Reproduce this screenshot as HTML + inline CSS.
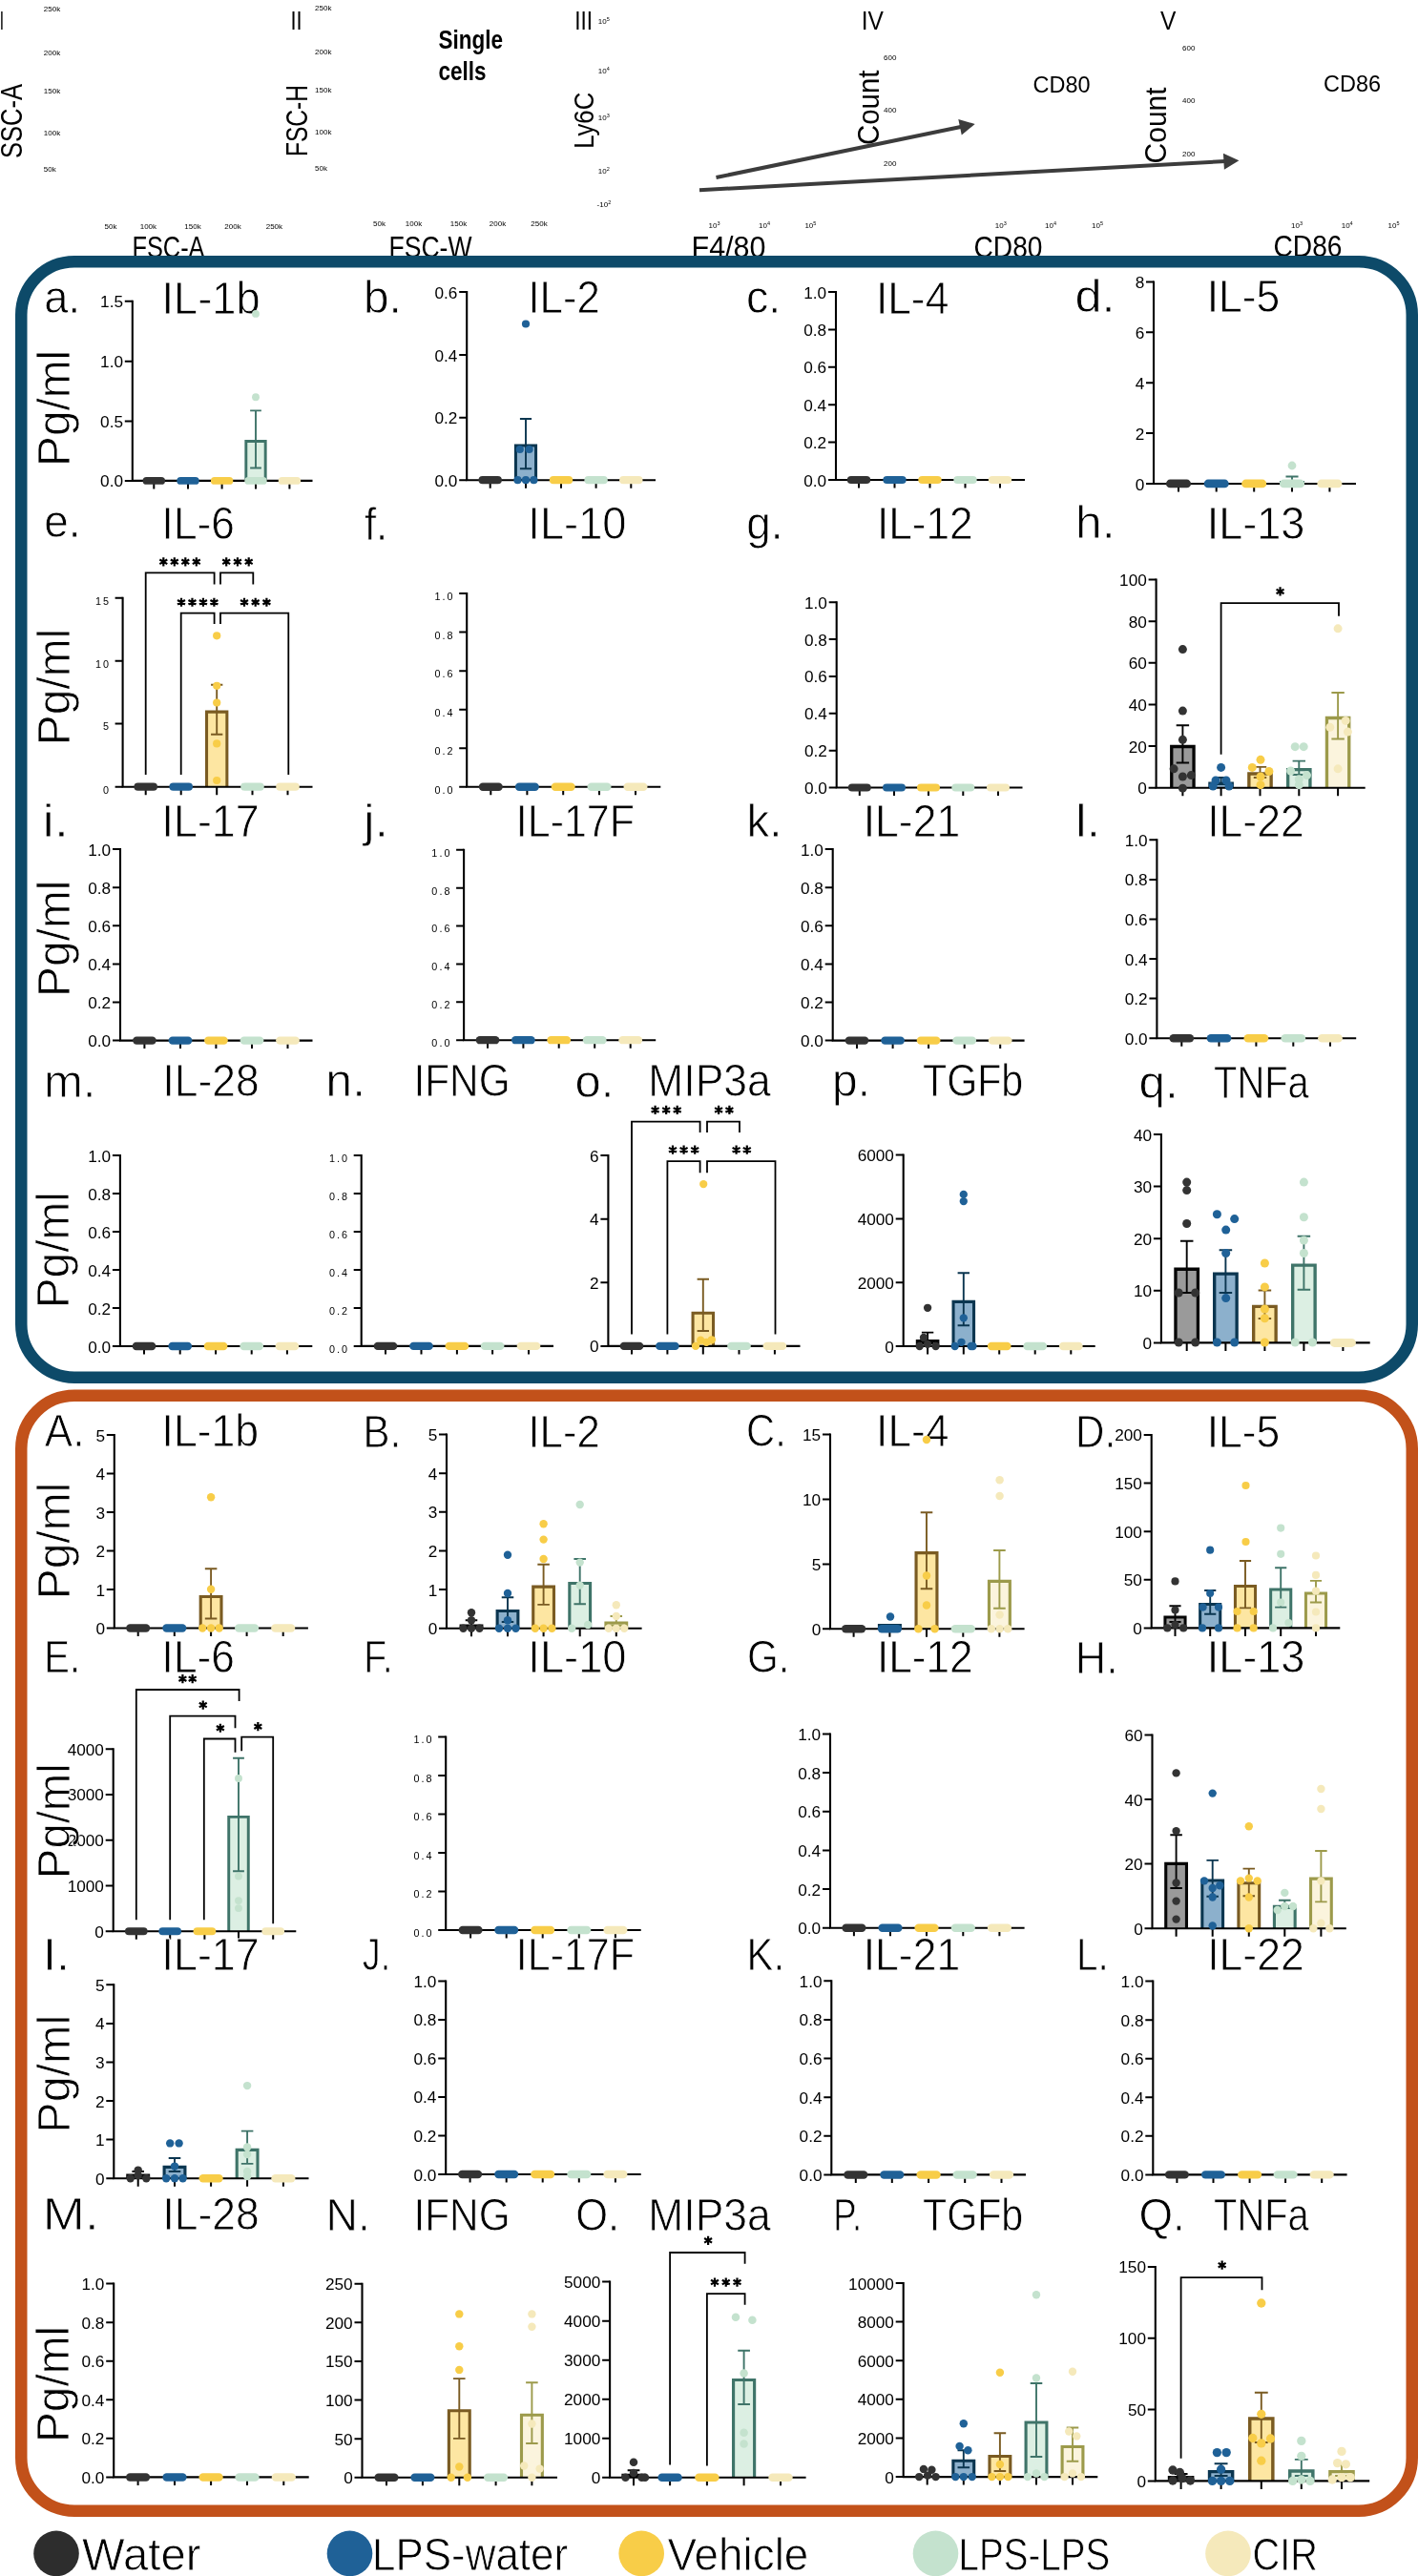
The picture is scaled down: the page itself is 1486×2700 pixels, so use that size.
<!DOCTYPE html><html><head><meta charset="utf-8"><style>html,body{margin:0;padding:0;background:#fff;}svg{display:block;font-family:"Liberation Sans", sans-serif;will-change:transform;}</style></head><body>
<svg width="1486" height="2700" viewBox="0 0 1486 2700">
<rect width="1486" height="2700" fill="#fff"/>
<g fill="#000">
<text x="-0.3" y="30.6" font-size="28.5" textLength="4.3" lengthAdjust="spacingAndGlyphs">I</text>
<text x="304.4" y="30.6" font-size="28.5" textLength="12.1" lengthAdjust="spacingAndGlyphs">II</text>
<text x="602.2" y="30.6" font-size="28.5" textLength="18.8" lengthAdjust="spacingAndGlyphs">III</text>
<text x="902.7" y="30.6" font-size="28.5" textLength="23.2" lengthAdjust="spacingAndGlyphs">IV</text>
<text x="1216.1" y="30.6" font-size="28.5" textLength="16.4" lengthAdjust="spacingAndGlyphs">V</text>
<text transform="translate(22.6,166) rotate(-90)" font-size="31.5" textLength="78" lengthAdjust="spacingAndGlyphs">SSC-A</text>
<text transform="translate(322.3,164) rotate(-90)" font-size="31.5" textLength="75" lengthAdjust="spacingAndGlyphs">FSC-H</text>
<text transform="translate(621.8,155.8) rotate(-90)" font-size="30.3" textLength="59" lengthAdjust="spacingAndGlyphs">Ly6C</text>
<text transform="translate(920.5,152) rotate(-90)" font-size="31" textLength="78.4" lengthAdjust="spacingAndGlyphs">Count</text>
<text transform="translate(1221.8,171.4) rotate(-90)" font-size="31" textLength="80" lengthAdjust="spacingAndGlyphs">Count</text>
<text x="459.5" y="50.8" font-size="27" textLength="67.5" lengthAdjust="spacingAndGlyphs" font-weight="bold">Single</text>
<text x="459.5" y="84" font-size="27" textLength="50" lengthAdjust="spacingAndGlyphs" font-weight="bold">cells</text>
<text x="1082.5" y="96.5" font-size="24.5" textLength="60" lengthAdjust="spacingAndGlyphs">CD80</text>
<text x="1387" y="96.4" font-size="24.5" textLength="60" lengthAdjust="spacingAndGlyphs">CD86</text>
<text x="138.5" y="270" font-size="31" textLength="76" lengthAdjust="spacingAndGlyphs">FSC-A</text>
<text x="407.5" y="270" font-size="31" textLength="87" lengthAdjust="spacingAndGlyphs">FSC-W</text>
<text x="724.5" y="269.5" font-size="31" textLength="78" lengthAdjust="spacingAndGlyphs">F4/80</text>
<text x="1020.5" y="269.5" font-size="31" textLength="72" lengthAdjust="spacingAndGlyphs">CD80</text>
<text x="1334.5" y="269" font-size="31" textLength="72" lengthAdjust="spacingAndGlyphs">CD86</text>
<g>
<text x="45.8" y="12.4" font-size="8">250k</text>
<text x="45.8" y="58.2" font-size="8">200k</text>
<text x="45.8" y="97.7" font-size="8">150k</text>
<text x="45.8" y="142.2" font-size="8">100k</text>
<text x="45.8" y="179.9" font-size="8">50k</text>
<text x="330.1" y="11.4" font-size="8">250k</text>
<text x="330.1" y="57.1" font-size="8">200k</text>
<text x="330.1" y="97.2" font-size="8">150k</text>
<text x="330.1" y="141.4" font-size="8">100k</text>
<text x="330.1" y="179" font-size="8">50k</text>
<text x="116" y="239.7" font-size="8" text-anchor="middle">50k</text>
<text x="155.4" y="239.7" font-size="8" text-anchor="middle">100k</text>
<text x="202" y="239.7" font-size="8" text-anchor="middle">150k</text>
<text x="244" y="239.7" font-size="8" text-anchor="middle">200k</text>
<text x="287.4" y="239.7" font-size="8" text-anchor="middle">250k</text>
<text x="397.5" y="237" font-size="8" text-anchor="middle">50k</text>
<text x="433.5" y="237" font-size="8" text-anchor="middle">100k</text>
<text x="480.5" y="237" font-size="8" text-anchor="middle">150k</text>
<text x="521.5" y="237" font-size="8" text-anchor="middle">200k</text>
<text x="565" y="237" font-size="8" text-anchor="middle">250k</text>
</g>
<text x="626.8" y="25.4" font-size="8">10<tspan font-size="5.5" dy="-3.2">5</tspan></text>
<text x="626.8" y="76.8" font-size="8">10<tspan font-size="5.5" dy="-3.2">4</tspan></text>
<text x="626.8" y="126.3" font-size="8">10<tspan font-size="5.5" dy="-3.2">3</tspan></text>
<text x="626.8" y="181.7" font-size="8">10<tspan font-size="5.5" dy="-3.2">2</tspan></text>
<text x="625.6" y="217.4" font-size="8">-10<tspan font-size="5.5" dy="-3.2">2</tspan></text>
<text x="742.6" y="239" font-size="8">10<tspan font-size="5.5" dy="-3.2">3</tspan></text>
<text x="795" y="239" font-size="8">10<tspan font-size="5.5" dy="-3.2">4</tspan></text>
<text x="843.4" y="239" font-size="8">10<tspan font-size="5.5" dy="-3.2">5</tspan></text>
<text x="1042.8" y="239" font-size="8">10<tspan font-size="5.5" dy="-3.2">3</tspan></text>
<text x="1095" y="239" font-size="8">10<tspan font-size="5.5" dy="-3.2">4</tspan></text>
<text x="1144" y="239" font-size="8">10<tspan font-size="5.5" dy="-3.2">5</tspan></text>
<text x="1353" y="239" font-size="8">10<tspan font-size="5.5" dy="-3.2">3</tspan></text>
<text x="1405.7" y="239" font-size="8">10<tspan font-size="5.5" dy="-3.2">4</tspan></text>
<text x="1454.5" y="239" font-size="8">10<tspan font-size="5.5" dy="-3.2">5</tspan></text>
<text x="926" y="62.5" font-size="8">600</text>
<text x="926" y="117.5" font-size="8">400</text>
<text x="926" y="173.5" font-size="8">200</text>
<text x="1239" y="52.5" font-size="8">600</text>
<text x="1239" y="107.5" font-size="8">400</text>
<text x="1239" y="163.5" font-size="8">200</text>
</g>
<line x1="750.5" y1="186" x2="1007.99" y2="132.83" stroke="#3c3c3c" stroke-width="4"/>
<polygon points="1021.7,130 1007.75,141.56 1004.31,124.91" fill="#3c3c3c"/>
<line x1="733" y1="199.3" x2="1284.42" y2="169.07" stroke="#3c3c3c" stroke-width="4"/>
<polygon points="1298.4,168.3 1282.89,177.66 1281.96,160.69" fill="#3c3c3c"/>
<rect x="16" y="268" width="1470" height="1182" rx="60" fill="#fff"/>
<rect x="22.25" y="274.25" width="1457.5" height="1169.5" rx="55.75" ry="55.75" fill="none" stroke="#0d4a69" stroke-width="12.5"/>
<rect x="22.25" y="1462.75" width="1457.5" height="1169" rx="55.75" ry="55.75" fill="none" stroke="#c2511a" stroke-width="12.5"/>
<text x="46.28" y="327.7" font-size="47.5" textLength="37.76" lengthAdjust="spacingAndGlyphs" stroke="#fff" stroke-width="0.8">a.</text>
<text x="169.53" y="328.8" font-size="48" textLength="103.07" lengthAdjust="spacingAndGlyphs" stroke="#fff" stroke-width="0.8">IL-1b</text>
<path d="M257.82 503.9V462.46H278.18V503.9Z" fill="#dcefe3"/>
<path d="M257.82 503.9V462.46H278.18V503.9" fill="none" stroke="#3f7469" stroke-width="2.91"/>
<path d="M268 430.4V490.5M262.14 430.4h11.72M262.14 490.5h11.72" stroke="#3f7469" stroke-width="1.9" fill="none"/>
<path d="M138.8 314.7V503.9H327.5" stroke="#000" stroke-width="2.1" fill="none"/>
<path d="M130.8 315.7H138.8M130.8 378.7H138.8M130.8 441.4H138.8M130.8 503.9H138.8M161.3 503.9V512.4M197 503.9V512.4M232.6 503.9V512.4M268 503.9V512.4M303.4 503.9V512.4" stroke="#000" stroke-width="2" fill="none"/>
<rect x="149.58" y="499.96" width="23.45" height="7.87" rx="3.94" fill="#333333"/>
<rect x="185.28" y="499.96" width="23.45" height="7.87" rx="3.94" fill="#1f6197"/>
<rect x="220.88" y="499.96" width="23.45" height="7.87" rx="3.94" fill="#f8cd48"/>
<rect x="256.28" y="499.96" width="23.45" height="7.87" rx="3.94" fill="#c4e2ce"/>
<rect x="291.68" y="499.96" width="23.45" height="7.87" rx="3.94" fill="#f5e9bb"/>
<circle cx="268" cy="328.9" r="3.94" fill="#c4e2ce"/>
<circle cx="268" cy="416.2" r="3.94" fill="#c4e2ce"/>
<text x="129" y="322.2" font-size="17.2" text-anchor="end">1.5</text>
<text x="129" y="385.2" font-size="17.2" text-anchor="end">1.0</text>
<text x="129" y="447.9" font-size="17.2" text-anchor="end">0.5</text>
<text x="129" y="510.4" font-size="17.2" text-anchor="end">0.0</text>
<text x="380.92" y="328.2" font-size="47.5" textLength="39.84" lengthAdjust="spacingAndGlyphs" stroke="#fff" stroke-width="0.8">b.</text>
<text x="553.47" y="328.2" font-size="48" textLength="75.33" lengthAdjust="spacingAndGlyphs" stroke="#fff" stroke-width="0.8">IL-2</text>
<path d="M540.43 503.2V466.91H561.57V503.2Z" fill="#8cb0cc"/>
<path d="M540.43 503.2V466.91H561.57V503.2" fill="none" stroke="#0b3650" stroke-width="3.03"/>
<path d="M551 439V491.3M544.91 439h12.18M544.91 491.3h12.18" stroke="#0b3650" stroke-width="1.9" fill="none"/>
<path d="M489.2 305V503.2H687" stroke="#000" stroke-width="2.1" fill="none"/>
<path d="M481.2 306H489.2M481.2 372H489.2M481.2 437.7H489.2M481.2 503.2H489.2M513.7 503.2V511.7M551 503.2V511.7M588 503.2V511.7M624.6 503.2V511.7M661.3 503.2V511.7" stroke="#000" stroke-width="2" fill="none"/>
<rect x="501.52" y="499.11" width="24.35" height="8.17" rx="4.09" fill="#333333"/>
<rect x="575.82" y="499.11" width="24.35" height="8.17" rx="4.09" fill="#f8cd48"/>
<rect x="612.42" y="499.11" width="24.35" height="8.17" rx="4.09" fill="#c4e2ce"/>
<rect x="649.12" y="499.11" width="24.35" height="8.17" rx="4.09" fill="#f5e9bb"/>
<circle cx="551" cy="339.5" r="4.09" fill="#1f6197"/>
<circle cx="544.8" cy="471" r="4.09" fill="#1f6197"/>
<circle cx="554.6" cy="471" r="4.09" fill="#1f6197"/>
<circle cx="542.5" cy="503.2" r="4.09" fill="#1f6197"/>
<circle cx="551" cy="503.2" r="4.09" fill="#1f6197"/>
<circle cx="559.4" cy="503.2" r="4.09" fill="#1f6197"/>
<text x="479.4" y="312.5" font-size="17.2" text-anchor="end">0.6</text>
<text x="479.4" y="378.5" font-size="17.2" text-anchor="end">0.4</text>
<text x="479.4" y="444.2" font-size="17.2" text-anchor="end">0.2</text>
<text x="479.4" y="509.7" font-size="17.2" text-anchor="end">0.0</text>
<text x="782.02" y="327.5" font-size="47.5" textLength="36.23" lengthAdjust="spacingAndGlyphs" stroke="#fff" stroke-width="0.8">c.</text>
<text x="917.91" y="328.5" font-size="48" textLength="76.39" lengthAdjust="spacingAndGlyphs" stroke="#fff" stroke-width="0.8">IL-4</text>
<path d="M876 305V503H1074" stroke="#000" stroke-width="2.1" fill="none"/>
<path d="M868 306H876M868 345.4H876M868 384.8H876M868 424.2H876M868 463.6H876M868 503H876M900 503V511.5M937.5 503V511.5M974.5 503V511.5M1011.5 503V511.5M1048 503V511.5" stroke="#000" stroke-width="2" fill="none"/>
<rect x="887.79" y="498.9" width="24.42" height="8.19" rx="4.1" fill="#333333"/>
<rect x="925.29" y="498.9" width="24.42" height="8.19" rx="4.1" fill="#1f6197"/>
<rect x="962.29" y="498.9" width="24.42" height="8.19" rx="4.1" fill="#f8cd48"/>
<rect x="999.29" y="498.9" width="24.42" height="8.19" rx="4.1" fill="#c4e2ce"/>
<rect x="1035.79" y="498.9" width="24.42" height="8.19" rx="4.1" fill="#f5e9bb"/>
<text x="866.2" y="312.5" font-size="17.2" text-anchor="end">1.0</text>
<text x="866.2" y="351.9" font-size="17.2" text-anchor="end">0.8</text>
<text x="866.2" y="391.3" font-size="17.2" text-anchor="end">0.6</text>
<text x="866.2" y="430.7" font-size="17.2" text-anchor="end">0.4</text>
<text x="866.2" y="470.1" font-size="17.2" text-anchor="end">0.2</text>
<text x="866.2" y="509.5" font-size="17.2" text-anchor="end">0.0</text>
<text x="1126.48" y="327.2" font-size="47.5" textLength="42.13" lengthAdjust="spacingAndGlyphs" stroke="#fff" stroke-width="0.8">d.</text>
<text x="1264.69" y="327.2" font-size="48" textLength="76.67" lengthAdjust="spacingAndGlyphs" stroke="#fff" stroke-width="0.8">IL-5</text>
<path d="M1342.65 507V505.62H1365.35V507Z" fill="#dcefe3"/>
<path d="M1342.65 507V505.62H1365.35V507" fill="none" stroke="#3f7469" stroke-width="3.25"/>
<path d="M1354 499.5V504M1347.47 499.5h13.07M1347.47 504h13.07" stroke="#3f7469" stroke-width="1.9" fill="none"/>
<path d="M1209 294.4V507H1421" stroke="#000" stroke-width="2.1" fill="none"/>
<path d="M1201 295.4H1209M1201 348.3H1209M1201 401.2H1209M1201 454.1H1209M1201 507H1209M1235 507V515.5M1274.7 507V515.5M1314.2 507V515.5M1354 507V515.5M1393.4 507V515.5" stroke="#000" stroke-width="2" fill="none"/>
<rect x="1221.93" y="502.62" width="26.14" height="8.75" rx="4.38" fill="#333333"/>
<rect x="1261.63" y="502.62" width="26.14" height="8.75" rx="4.38" fill="#1f6197"/>
<rect x="1301.13" y="502.62" width="26.14" height="8.75" rx="4.38" fill="#f8cd48"/>
<rect x="1340.93" y="502.62" width="26.14" height="8.75" rx="4.38" fill="#c4e2ce"/>
<rect x="1380.33" y="502.62" width="26.14" height="8.75" rx="4.38" fill="#f5e9bb"/>
<circle cx="1354" cy="488" r="4.38" fill="#c4e2ce"/>
<text x="1199.2" y="301.9" font-size="17.2" text-anchor="end">8</text>
<text x="1199.2" y="354.8" font-size="17.2" text-anchor="end">6</text>
<text x="1199.2" y="407.7" font-size="17.2" text-anchor="end">4</text>
<text x="1199.2" y="460.6" font-size="17.2" text-anchor="end">2</text>
<text x="1199.2" y="513.5" font-size="17.2" text-anchor="end">0</text>
<text x="46.25" y="563.4" font-size="47.5" textLength="38.35" lengthAdjust="spacingAndGlyphs" stroke="#fff" stroke-width="0.8">e.</text>
<text x="169.62" y="564.7" font-size="48" textLength="76.23" lengthAdjust="spacingAndGlyphs" stroke="#fff" stroke-width="0.8">IL-6</text>
<path d="M216.54 824.7V746.13H237.86V824.7Z" fill="#fde6a2"/>
<path d="M216.54 824.7V746.13H237.86V824.7" fill="none" stroke="#7a5b22" stroke-width="3.05"/>
<path d="M227.2 717.8V769.8M221.06 717.8h12.28M221.06 769.8h12.28" stroke="#7a5b22" stroke-width="1.9" fill="none"/>
<path d="M128.6 625.7V824.7H327.5" stroke="#000" stroke-width="2.1" fill="none"/>
<path d="M120.6 626.7H128.6M120.6 692.8H128.6M120.6 758.5H128.6M120.6 824.7H128.6M152.7 824.7V833.2M189.7 824.7V833.2M227.2 824.7V833.2M264.5 824.7V833.2M301.5 824.7V833.2" stroke="#000" stroke-width="2" fill="none"/>
<rect x="140.42" y="820.58" width="24.55" height="8.24" rx="4.12" fill="#333333"/>
<rect x="177.42" y="820.58" width="24.55" height="8.24" rx="4.12" fill="#1f6197"/>
<rect x="252.22" y="820.58" width="24.55" height="8.24" rx="4.12" fill="#c4e2ce"/>
<rect x="289.22" y="820.58" width="24.55" height="8.24" rx="4.12" fill="#f5e9bb"/>
<circle cx="227.2" cy="666.3" r="4.12" fill="#f8cd48"/>
<circle cx="227.2" cy="718.8" r="4.12" fill="#f8cd48"/>
<circle cx="227.2" cy="736.5" r="4.12" fill="#f8cd48"/>
<circle cx="227.2" cy="779.4" r="4.12" fill="#f8cd48"/>
<circle cx="227.2" cy="818" r="4.12" fill="#f8cd48"/>
<text x="116.1" y="633.6" font-size="10.8" text-anchor="end" letter-spacing="2.1">15</text>
<text x="116.1" y="699.7" font-size="10.8" text-anchor="end" letter-spacing="2.1">10</text>
<text x="116.1" y="765.4" font-size="10.8" text-anchor="end" letter-spacing="2.1">5</text>
<text x="116.1" y="831.6" font-size="10.8" text-anchor="end" letter-spacing="2.1">0</text>
<path d="M152.7 812L152.7 600.4L224.6 600.4L224.6 612.5" stroke="#000" stroke-width="1.8" fill="none"/>
<path d="M231 612.5L231 600.4L265.3 600.4L265.3 612.5" stroke="#000" stroke-width="1.8" fill="none"/>
<path d="M189.7 812L189.7 642.7L224.6 642.7L224.6 654" stroke="#000" stroke-width="1.8" fill="none"/>
<path d="M231 654L231 642.7L302.3 642.7L302.3 812" stroke="#000" stroke-width="1.8" fill="none"/>
<path d="M171.3 584.25L171.3 593.45M167.32 586.55L175.28 591.15M167.32 591.15L175.28 586.55M182.8 584.25L182.8 593.45M178.82 586.55L186.78 591.15M178.82 591.15L186.78 586.55M194.3 584.25L194.3 593.45M190.32 586.55L198.28 591.15M190.32 591.15L198.28 586.55M205.8 584.25L205.8 593.45M201.82 586.55L209.78 591.15M201.82 591.15L209.78 586.55" stroke="#000" stroke-width="2.2" fill="none"/>
<path d="M237.2 584.25L237.2 593.45M233.22 586.55L241.18 591.15M233.22 591.15L241.18 586.55M248.95 584.25L248.95 593.45M244.97 586.55L252.93 591.15M244.97 591.15L252.93 586.55M260.7 584.25L260.7 593.45M256.72 586.55L264.68 591.15M256.72 591.15L264.68 586.55" stroke="#000" stroke-width="2.2" fill="none"/>
<path d="M190 626.65L190 635.85M186.02 628.95L193.98 633.55M186.02 633.55L193.98 628.95M201.47 626.65L201.47 635.85M197.48 628.95L205.45 633.55M197.48 633.55L205.45 628.95M212.93 626.65L212.93 635.85M208.95 628.95L216.92 633.55M208.95 633.55L216.92 628.95M224.4 626.65L224.4 635.85M220.42 628.95L228.38 633.55M220.42 633.55L228.38 628.95" stroke="#000" stroke-width="2.2" fill="none"/>
<path d="M256 626.65L256 635.85M252.02 628.95L259.98 633.55M252.02 633.55L259.98 628.95M267.7 626.65L267.7 635.85M263.72 628.95L271.68 633.55M263.72 633.55L271.68 628.95M279.4 626.65L279.4 635.85M275.42 628.95L283.38 633.55M275.42 633.55L283.38 628.95" stroke="#000" stroke-width="2.2" fill="none"/>
<text x="381.98" y="565.5" font-size="47.5" textLength="24.32" lengthAdjust="spacingAndGlyphs" stroke="#fff" stroke-width="0.8">f.</text>
<text x="553.32" y="565.1" font-size="48" textLength="103.25" lengthAdjust="spacingAndGlyphs" stroke="#fff" stroke-width="0.8">IL-10</text>
<path d="M489.2 621.1V824.7H692.3" stroke="#000" stroke-width="2.1" fill="none"/>
<path d="M481.2 622.1H489.2M481.2 662.62H489.2M481.2 703.14H489.2M481.2 743.66H489.2M481.2 784.18H489.2M481.2 824.7H489.2M514.3 824.7V833.2M552.4 824.7V833.2M590.2 824.7V833.2M628 824.7V833.2M666 824.7V833.2" stroke="#000" stroke-width="2" fill="none"/>
<rect x="501.78" y="820.5" width="25.03" height="8.39" rx="4.2" fill="#333333"/>
<rect x="539.88" y="820.5" width="25.03" height="8.39" rx="4.2" fill="#1f6197"/>
<rect x="577.68" y="820.5" width="25.03" height="8.39" rx="4.2" fill="#f8cd48"/>
<rect x="615.48" y="820.5" width="25.03" height="8.39" rx="4.2" fill="#c4e2ce"/>
<rect x="653.48" y="820.5" width="25.03" height="8.39" rx="4.2" fill="#f5e9bb"/>
<text x="476.7" y="629" font-size="10.8" text-anchor="end" letter-spacing="2.1">1.0</text>
<text x="476.7" y="669.52" font-size="10.8" text-anchor="end" letter-spacing="2.1">0.8</text>
<text x="476.7" y="710.04" font-size="10.8" text-anchor="end" letter-spacing="2.1">0.6</text>
<text x="476.7" y="750.56" font-size="10.8" text-anchor="end" letter-spacing="2.1">0.4</text>
<text x="476.7" y="791.08" font-size="10.8" text-anchor="end" letter-spacing="2.1">0.2</text>
<text x="476.7" y="831.6" font-size="10.8" text-anchor="end" letter-spacing="2.1">0.0</text>
<text x="782.27" y="564.5" font-size="47.5" textLength="38.33" lengthAdjust="spacingAndGlyphs" stroke="#fff" stroke-width="0.8">g.</text>
<text x="918.92" y="564.7" font-size="48" textLength="100.7" lengthAdjust="spacingAndGlyphs" stroke="#fff" stroke-width="0.8">IL-12</text>
<path d="M876.7 630.2V825.5H1071.5" stroke="#000" stroke-width="2.1" fill="none"/>
<path d="M868.7 631.2H876.7M868.7 670.06H876.7M868.7 708.92H876.7M868.7 747.78H876.7M868.7 786.64H876.7M868.7 825.5H876.7M900.8 825.5V834M937 825.5V834M973 825.5V834M1009.3 825.5V834M1046 825.5V834" stroke="#000" stroke-width="2" fill="none"/>
<rect x="888.82" y="821.48" width="23.96" height="8.04" rx="4.02" fill="#333333"/>
<rect x="925.02" y="821.48" width="23.96" height="8.04" rx="4.02" fill="#1f6197"/>
<rect x="961.02" y="821.48" width="23.96" height="8.04" rx="4.02" fill="#f8cd48"/>
<rect x="997.32" y="821.48" width="23.96" height="8.04" rx="4.02" fill="#c4e2ce"/>
<rect x="1034.02" y="821.48" width="23.96" height="8.04" rx="4.02" fill="#f5e9bb"/>
<text x="866.9" y="637.7" font-size="17.2" text-anchor="end">1.0</text>
<text x="866.9" y="676.56" font-size="17.2" text-anchor="end">0.8</text>
<text x="866.9" y="715.42" font-size="17.2" text-anchor="end">0.6</text>
<text x="866.9" y="754.28" font-size="17.2" text-anchor="end">0.4</text>
<text x="866.9" y="793.14" font-size="17.2" text-anchor="end">0.2</text>
<text x="866.9" y="832" font-size="17.2" text-anchor="end">0.0</text>
<text x="1127.05" y="564" font-size="47.5" textLength="41.49" lengthAdjust="spacingAndGlyphs" stroke="#fff" stroke-width="0.8">h.</text>
<text x="1264.64" y="564.5" font-size="48" textLength="102.74" lengthAdjust="spacingAndGlyphs" stroke="#fff" stroke-width="0.8">IL-13</text>
<path d="M1227.75 825.7V782.47H1251.05V825.7Z" fill="#9a9a9a"/>
<path d="M1227.75 825.7V782.47H1251.05V825.7" fill="none" stroke="#050505" stroke-width="3.34"/>
<path d="M1239.4 760.3V799.5M1232.69 760.3h13.42M1232.69 799.5h13.42" stroke="#050505" stroke-width="1.9" fill="none"/>
<path d="M1267.95 825.7V821.07H1291.25V825.7Z" fill="#8cb0cc"/>
<path d="M1267.95 825.7V821.07H1291.25V825.7" fill="none" stroke="#0b3650" stroke-width="3.34"/>
<path d="M1279.6 815V822M1272.89 815h13.42M1272.89 822h13.42" stroke="#0b3650" stroke-width="1.9" fill="none"/>
<path d="M1308.85 825.7V810.97H1332.15V825.7Z" fill="#fde6a2"/>
<path d="M1308.85 825.7V810.97H1332.15V825.7" fill="none" stroke="#7a5b22" stroke-width="3.34"/>
<path d="M1320.5 803.9V815M1313.79 803.9h13.42M1313.79 815h13.42" stroke="#7a5b22" stroke-width="1.9" fill="none"/>
<path d="M1349.65 825.7V806.67H1372.95V825.7Z" fill="#dcefe3"/>
<path d="M1349.65 825.7V806.67H1372.95V825.7" fill="none" stroke="#3f7469" stroke-width="3.34"/>
<path d="M1361.3 797.6V812M1354.59 797.6h13.42M1354.59 812h13.42" stroke="#3f7469" stroke-width="1.9" fill="none"/>
<path d="M1390.45 825.7V752.47H1413.75V825.7Z" fill="#fbf4dd"/>
<path d="M1390.45 825.7V752.47H1413.75V825.7" fill="none" stroke="#9c9a4b" stroke-width="3.34"/>
<path d="M1402.1 726V774.5M1395.39 726h13.42M1395.39 774.5h13.42" stroke="#9c9a4b" stroke-width="1.9" fill="none"/>
<path d="M1211.6 606.6V825.7H1430.7" stroke="#000" stroke-width="2.1" fill="none"/>
<path d="M1203.6 607.6H1211.6M1203.6 651.22H1211.6M1203.6 694.84H1211.6M1203.6 738.46H1211.6M1203.6 782.08H1211.6M1203.6 825.7H1211.6M1239.4 825.7V834.2M1279.6 825.7V834.2M1320.5 825.7V834.2M1361.3 825.7V834.2M1402.1 825.7V834.2" stroke="#000" stroke-width="2" fill="none"/>
<circle cx="1239.4" cy="680.6" r="4.49" fill="#333333"/>
<circle cx="1239.4" cy="745.1" r="4.49" fill="#333333"/>
<circle cx="1239.4" cy="775.3" r="4.49" fill="#333333"/>
<circle cx="1230.1" cy="805.8" r="4.49" fill="#333333"/>
<circle cx="1239.4" cy="814" r="4.49" fill="#333333"/>
<circle cx="1248.3" cy="812.6" r="4.49" fill="#333333"/>
<circle cx="1239.4" cy="826.2" r="4.49" fill="#333333"/>
<circle cx="1279.6" cy="804.4" r="4.49" fill="#1f6197"/>
<circle cx="1274" cy="818" r="4.49" fill="#1f6197"/>
<circle cx="1285" cy="818" r="4.49" fill="#1f6197"/>
<circle cx="1271.2" cy="824" r="4.49" fill="#1f6197"/>
<circle cx="1288" cy="824" r="4.49" fill="#1f6197"/>
<circle cx="1321" cy="796.3" r="4.49" fill="#f8cd48"/>
<circle cx="1312.3" cy="804.4" r="4.49" fill="#f8cd48"/>
<circle cx="1329.9" cy="808.5" r="4.49" fill="#f8cd48"/>
<circle cx="1321" cy="814" r="4.49" fill="#f8cd48"/>
<circle cx="1321" cy="822.7" r="4.49" fill="#f8cd48"/>
<circle cx="1357.2" cy="782.7" r="4.49" fill="#c4e2ce"/>
<circle cx="1366.2" cy="782.7" r="4.49" fill="#c4e2ce"/>
<circle cx="1352.6" cy="808" r="4.49" fill="#c4e2ce"/>
<circle cx="1369.5" cy="812.6" r="4.49" fill="#c4e2ce"/>
<circle cx="1361.3" cy="816.7" r="4.49" fill="#c4e2ce"/>
<circle cx="1361.3" cy="822.7" r="4.49" fill="#c4e2ce"/>
<circle cx="1402.1" cy="658.8" r="4.49" fill="#f5e9bb"/>
<circle cx="1393.8" cy="762.3" r="4.49" fill="#f5e9bb"/>
<circle cx="1410.2" cy="755.4" r="4.49" fill="#f5e9bb"/>
<circle cx="1412.4" cy="767.1" r="4.49" fill="#f5e9bb"/>
<circle cx="1402.1" cy="805.8" r="4.49" fill="#f5e9bb"/>
<text x="1201.8" y="614.1" font-size="17.2" text-anchor="end">100</text>
<text x="1201.8" y="657.72" font-size="17.2" text-anchor="end">80</text>
<text x="1201.8" y="701.34" font-size="17.2" text-anchor="end">60</text>
<text x="1201.8" y="744.96" font-size="17.2" text-anchor="end">40</text>
<text x="1201.8" y="788.58" font-size="17.2" text-anchor="end">20</text>
<text x="1201.8" y="832.2" font-size="17.2" text-anchor="end">0</text>
<path d="M1279.6 790.8L1279.6 632.1L1403 632.1L1403 645.7" stroke="#000" stroke-width="1.8" fill="none"/>
<path d="M1341.55 615.3L1341.55 624.5M1337.57 617.6L1345.53 622.2M1337.57 622.2L1345.53 617.6" stroke="#000" stroke-width="2.2" fill="none"/>
<text x="44.52" y="876.7" font-size="47.5" textLength="27.5" lengthAdjust="spacingAndGlyphs" stroke="#fff" stroke-width="0.8">i.</text>
<text x="169.57" y="876.7" font-size="48" textLength="101.98" lengthAdjust="spacingAndGlyphs" stroke="#fff" stroke-width="0.8">IL-17</text>
<path d="M126 889.1V1090.6H327.5" stroke="#000" stroke-width="2.1" fill="none"/>
<path d="M118 890.1H126M118 930.2H126M118 970.3H126M118 1010.4H126M118 1050.5H126M118 1090.6H126M151.4 1090.6V1099.1M189 1090.6V1099.1M226.4 1090.6V1099.1M264 1090.6V1099.1M301.5 1090.6V1099.1" stroke="#000" stroke-width="2" fill="none"/>
<rect x="139.02" y="1086.45" width="24.77" height="8.31" rx="4.15" fill="#333333"/>
<rect x="176.62" y="1086.45" width="24.77" height="8.31" rx="4.15" fill="#1f6197"/>
<rect x="214.02" y="1086.45" width="24.77" height="8.31" rx="4.15" fill="#f8cd48"/>
<rect x="251.62" y="1086.45" width="24.77" height="8.31" rx="4.15" fill="#c4e2ce"/>
<rect x="289.12" y="1086.45" width="24.77" height="8.31" rx="4.15" fill="#f5e9bb"/>
<text x="116.2" y="896.6" font-size="17.2" text-anchor="end">1.0</text>
<text x="116.2" y="936.7" font-size="17.2" text-anchor="end">0.8</text>
<text x="116.2" y="976.8" font-size="17.2" text-anchor="end">0.6</text>
<text x="116.2" y="1016.9" font-size="17.2" text-anchor="end">0.4</text>
<text x="116.2" y="1057" font-size="17.2" text-anchor="end">0.2</text>
<text x="116.2" y="1097.1" font-size="17.2" text-anchor="end">0.0</text>
<text x="380.97" y="877.2" font-size="47.5" textLength="26.09" lengthAdjust="spacingAndGlyphs" stroke="#fff" stroke-width="0.8">j.</text>
<text x="540.84" y="877.2" font-size="48" textLength="124.08" lengthAdjust="spacingAndGlyphs" stroke="#fff" stroke-width="0.8">IL-17F</text>
<path d="M486.1 889.8V1090.2H687.2" stroke="#000" stroke-width="2.1" fill="none"/>
<path d="M478.1 890.8H486.1M478.1 930.68H486.1M478.1 970.56H486.1M478.1 1010.44H486.1M478.1 1050.32H486.1M478.1 1090.2H486.1M511 1090.2V1098.7M548.4 1090.2V1098.7M585.7 1090.2V1098.7M623.2 1090.2V1098.7M660.7 1090.2V1098.7" stroke="#000" stroke-width="2" fill="none"/>
<rect x="498.65" y="1086.06" width="24.7" height="8.28" rx="4.14" fill="#333333"/>
<rect x="536.05" y="1086.06" width="24.7" height="8.28" rx="4.14" fill="#1f6197"/>
<rect x="573.35" y="1086.06" width="24.7" height="8.28" rx="4.14" fill="#f8cd48"/>
<rect x="610.85" y="1086.06" width="24.7" height="8.28" rx="4.14" fill="#c4e2ce"/>
<rect x="648.35" y="1086.06" width="24.7" height="8.28" rx="4.14" fill="#f5e9bb"/>
<text x="473.6" y="897.7" font-size="10.8" text-anchor="end" letter-spacing="2.1">1.0</text>
<text x="473.6" y="937.58" font-size="10.8" text-anchor="end" letter-spacing="2.1">0.8</text>
<text x="473.6" y="977.46" font-size="10.8" text-anchor="end" letter-spacing="2.1">0.6</text>
<text x="473.6" y="1017.34" font-size="10.8" text-anchor="end" letter-spacing="2.1">0.4</text>
<text x="473.6" y="1057.22" font-size="10.8" text-anchor="end" letter-spacing="2.1">0.2</text>
<text x="473.6" y="1097.1" font-size="10.8" text-anchor="end" letter-spacing="2.1">0.0</text>
<text x="782.4" y="876.7" font-size="47.5" textLength="36.94" lengthAdjust="spacingAndGlyphs" stroke="#fff" stroke-width="0.8">k.</text>
<text x="904.69" y="876.7" font-size="48" textLength="101.48" lengthAdjust="spacingAndGlyphs" stroke="#fff" stroke-width="0.8">IL-21</text>
<path d="M872.7 889.1V1090.6H1073.6" stroke="#000" stroke-width="2.1" fill="none"/>
<path d="M864.7 890.1H872.7M864.7 930.2H872.7M864.7 970.3H872.7M864.7 1010.4H872.7M864.7 1050.5H872.7M864.7 1090.6H872.7M898 1090.6V1099.1M935.6 1090.6V1099.1M973.1 1090.6V1099.1M1010.7 1090.6V1099.1M1048.2 1090.6V1099.1" stroke="#000" stroke-width="2" fill="none"/>
<rect x="885.61" y="1086.44" width="24.78" height="8.31" rx="4.16" fill="#333333"/>
<rect x="923.21" y="1086.44" width="24.78" height="8.31" rx="4.16" fill="#1f6197"/>
<rect x="960.71" y="1086.44" width="24.78" height="8.31" rx="4.16" fill="#f8cd48"/>
<rect x="998.31" y="1086.44" width="24.78" height="8.31" rx="4.16" fill="#c4e2ce"/>
<rect x="1035.81" y="1086.44" width="24.78" height="8.31" rx="4.16" fill="#f5e9bb"/>
<text x="862.9" y="896.6" font-size="17.2" text-anchor="end">1.0</text>
<text x="862.9" y="936.7" font-size="17.2" text-anchor="end">0.8</text>
<text x="862.9" y="976.8" font-size="17.2" text-anchor="end">0.6</text>
<text x="862.9" y="1016.9" font-size="17.2" text-anchor="end">0.4</text>
<text x="862.9" y="1057" font-size="17.2" text-anchor="end">0.2</text>
<text x="862.9" y="1097.1" font-size="17.2" text-anchor="end">0.0</text>
<text x="1126.97" y="877.2" font-size="47.5" textLength="26.22" lengthAdjust="spacingAndGlyphs" stroke="#fff" stroke-width="0.8">l.</text>
<text x="1265.18" y="877.2" font-size="48" textLength="101.66" lengthAdjust="spacingAndGlyphs" stroke="#fff" stroke-width="0.8">IL-22</text>
<path d="M1212.4 879.3V1088.2H1421.2" stroke="#000" stroke-width="2.1" fill="none"/>
<path d="M1204.4 880.3H1212.4M1204.4 921.88H1212.4M1204.4 963.46H1212.4M1204.4 1005.04H1212.4M1204.4 1046.62H1212.4M1204.4 1088.2H1212.4M1238.3 1088.2V1096.7M1277.5 1088.2V1096.7M1316.4 1088.2V1096.7M1355.3 1088.2V1096.7M1394 1088.2V1096.7" stroke="#000" stroke-width="2" fill="none"/>
<rect x="1225.45" y="1083.9" width="25.69" height="8.61" rx="4.3" fill="#333333"/>
<rect x="1264.65" y="1083.9" width="25.69" height="8.61" rx="4.3" fill="#1f6197"/>
<rect x="1303.55" y="1083.9" width="25.69" height="8.61" rx="4.3" fill="#f8cd48"/>
<rect x="1342.45" y="1083.9" width="25.69" height="8.61" rx="4.3" fill="#c4e2ce"/>
<rect x="1381.15" y="1083.9" width="25.69" height="8.61" rx="4.3" fill="#f5e9bb"/>
<text x="1202.6" y="886.8" font-size="17.2" text-anchor="end">1.0</text>
<text x="1202.6" y="928.38" font-size="17.2" text-anchor="end">0.8</text>
<text x="1202.6" y="969.96" font-size="17.2" text-anchor="end">0.6</text>
<text x="1202.6" y="1011.54" font-size="17.2" text-anchor="end">0.4</text>
<text x="1202.6" y="1053.12" font-size="17.2" text-anchor="end">0.2</text>
<text x="1202.6" y="1094.7" font-size="17.2" text-anchor="end">0.0</text>
<text x="45.95" y="1149.7" font-size="47.5" textLength="54.43" lengthAdjust="spacingAndGlyphs" stroke="#fff" stroke-width="0.8">m.</text>
<text x="170.51" y="1148.5" font-size="48" textLength="101.12" lengthAdjust="spacingAndGlyphs" stroke="#fff" stroke-width="0.8">IL-28</text>
<path d="M125.9 1210V1411H327.3" stroke="#000" stroke-width="2.1" fill="none"/>
<path d="M117.9 1211H125.9M117.9 1251H125.9M117.9 1291H125.9M117.9 1331H125.9M117.9 1371H125.9M117.9 1411H125.9M151 1411V1419.5M188.7 1411V1419.5M226.1 1411V1419.5M263.7 1411V1419.5M300.9 1411V1419.5" stroke="#000" stroke-width="2" fill="none"/>
<rect x="138.63" y="1406.85" width="24.73" height="8.29" rx="4.15" fill="#333333"/>
<rect x="176.33" y="1406.85" width="24.73" height="8.29" rx="4.15" fill="#1f6197"/>
<rect x="213.73" y="1406.85" width="24.73" height="8.29" rx="4.15" fill="#f8cd48"/>
<rect x="251.33" y="1406.85" width="24.73" height="8.29" rx="4.15" fill="#c4e2ce"/>
<rect x="288.53" y="1406.85" width="24.73" height="8.29" rx="4.15" fill="#f5e9bb"/>
<text x="116.1" y="1217.5" font-size="17.2" text-anchor="end">1.0</text>
<text x="116.1" y="1257.5" font-size="17.2" text-anchor="end">0.8</text>
<text x="116.1" y="1297.5" font-size="17.2" text-anchor="end">0.6</text>
<text x="116.1" y="1337.5" font-size="17.2" text-anchor="end">0.4</text>
<text x="116.1" y="1377.5" font-size="17.2" text-anchor="end">0.2</text>
<text x="116.1" y="1417.5" font-size="17.2" text-anchor="end">0.0</text>
<text x="341.38" y="1149.2" font-size="47.5" textLength="41.68" lengthAdjust="spacingAndGlyphs" stroke="#fff" stroke-width="0.8">n.</text>
<text x="433.5" y="1149.2" font-size="48" textLength="101.07" lengthAdjust="spacingAndGlyphs" stroke="#fff" stroke-width="0.8">IFNG</text>
<path d="M378.7 1210V1410.9H580" stroke="#000" stroke-width="2.1" fill="none"/>
<path d="M370.7 1211H378.7M370.7 1250.98H378.7M370.7 1290.96H378.7M370.7 1330.94H378.7M370.7 1370.92H378.7M370.7 1410.9H378.7M404 1410.9V1419.4M441.5 1410.9V1419.4M478.9 1410.9V1419.4M516.1 1410.9V1419.4M554 1410.9V1419.4" stroke="#000" stroke-width="2" fill="none"/>
<rect x="391.62" y="1406.75" width="24.75" height="8.3" rx="4.15" fill="#333333"/>
<rect x="429.12" y="1406.75" width="24.75" height="8.3" rx="4.15" fill="#1f6197"/>
<rect x="466.52" y="1406.75" width="24.75" height="8.3" rx="4.15" fill="#f8cd48"/>
<rect x="503.73" y="1406.75" width="24.75" height="8.3" rx="4.15" fill="#c4e2ce"/>
<rect x="541.62" y="1406.75" width="24.75" height="8.3" rx="4.15" fill="#f5e9bb"/>
<text x="366.2" y="1217.9" font-size="10.8" text-anchor="end" letter-spacing="2.1">1.0</text>
<text x="366.2" y="1257.88" font-size="10.8" text-anchor="end" letter-spacing="2.1">0.8</text>
<text x="366.2" y="1297.86" font-size="10.8" text-anchor="end" letter-spacing="2.1">0.6</text>
<text x="366.2" y="1337.84" font-size="10.8" text-anchor="end" letter-spacing="2.1">0.4</text>
<text x="366.2" y="1377.82" font-size="10.8" text-anchor="end" letter-spacing="2.1">0.2</text>
<text x="366.2" y="1417.8" font-size="10.8" text-anchor="end" letter-spacing="2.1">0.0</text>
<text x="602.64" y="1149.5" font-size="47.5" textLength="40.83" lengthAdjust="spacingAndGlyphs" stroke="#fff" stroke-width="0.8">o.</text>
<text x="679.35" y="1149.2" font-size="48" textLength="128.45" lengthAdjust="spacingAndGlyphs" stroke="#fff" stroke-width="0.8">MIP3a</text>
<path d="M726.06 1410.9V1376.24H747.54V1410.9Z" fill="#fde6a2"/>
<path d="M726.06 1410.9V1376.24H747.54V1410.9" fill="none" stroke="#7a5b22" stroke-width="3.07"/>
<path d="M736.8 1340.7V1395M730.62 1340.7h12.37M730.62 1395h12.37" stroke="#7a5b22" stroke-width="1.9" fill="none"/>
<path d="M637.4 1210V1410.9H838.5" stroke="#000" stroke-width="2.1" fill="none"/>
<path d="M629.4 1211H637.4M629.4 1277.63H637.4M629.4 1344.27H637.4M629.4 1410.9H637.4M662 1410.9V1419.4M699.4 1410.9V1419.4M736.8 1410.9V1419.4M774.5 1410.9V1419.4M811.9 1410.9V1419.4" stroke="#000" stroke-width="2" fill="none"/>
<rect x="649.63" y="1406.75" width="24.73" height="8.29" rx="4.15" fill="#333333"/>
<rect x="687.03" y="1406.75" width="24.73" height="8.29" rx="4.15" fill="#1f6197"/>
<rect x="762.13" y="1406.75" width="24.73" height="8.29" rx="4.15" fill="#c4e2ce"/>
<rect x="799.53" y="1406.75" width="24.73" height="8.29" rx="4.15" fill="#f5e9bb"/>
<circle cx="737.2" cy="1241.1" r="4.15" fill="#f8cd48"/>
<circle cx="729" cy="1410.9" r="4.15" fill="#f8cd48"/>
<circle cx="734.2" cy="1404.7" r="4.15" fill="#f8cd48"/>
<circle cx="740.3" cy="1406.8" r="4.15" fill="#f8cd48"/>
<circle cx="745.8" cy="1404.3" r="4.15" fill="#f8cd48"/>
<text x="627.6" y="1217.5" font-size="17.2" text-anchor="end">6</text>
<text x="627.6" y="1284.13" font-size="17.2" text-anchor="end">4</text>
<text x="627.6" y="1350.77" font-size="17.2" text-anchor="end">2</text>
<text x="627.6" y="1417.4" font-size="17.2" text-anchor="end">0</text>
<path d="M662 1398.6L662 1175.7L733.6 1175.7L733.6 1187" stroke="#000" stroke-width="1.8" fill="none"/>
<path d="M741 1187L741 1175.7L775 1175.7L775 1187" stroke="#000" stroke-width="1.8" fill="none"/>
<path d="M699.4 1398.6L699.4 1217.2L733.6 1217.2L733.6 1229.3" stroke="#000" stroke-width="1.8" fill="none"/>
<path d="M741 1229.3L741 1217.2L812.5 1217.2L812.5 1398.6" stroke="#000" stroke-width="1.8" fill="none"/>
<path d="M686.6 1158.8L686.6 1168M682.62 1161.1L690.58 1165.7M682.62 1165.7L690.58 1161.1M698.15 1158.8L698.15 1168M694.17 1161.1L702.13 1165.7M694.17 1165.7L702.13 1161.1M709.7 1158.8L709.7 1168M705.72 1161.1L713.68 1165.7M705.72 1165.7L713.68 1161.1" stroke="#000" stroke-width="2.2" fill="none"/>
<path d="M753.1 1158.8L753.1 1168M749.12 1161.1L757.08 1165.7M749.12 1165.7L757.08 1161.1M764.4 1158.8L764.4 1168M760.42 1161.1L768.38 1165.7M760.42 1165.7L768.38 1161.1" stroke="#000" stroke-width="2.2" fill="none"/>
<path d="M705 1200.6L705 1209.8M701.02 1202.9L708.98 1207.5M701.02 1207.5L708.98 1202.9M716.6 1200.6L716.6 1209.8M712.62 1202.9L720.58 1207.5M712.62 1207.5L720.58 1202.9M728.2 1200.6L728.2 1209.8M724.22 1202.9L732.18 1207.5M724.22 1207.5L732.18 1202.9" stroke="#000" stroke-width="2.2" fill="none"/>
<path d="M771.6 1200.6L771.6 1209.8M767.62 1202.9L775.58 1207.5M767.62 1207.5L775.58 1202.9M782.8 1200.6L782.8 1209.8M778.82 1202.9L786.78 1207.5M778.82 1207.5L786.78 1202.9" stroke="#000" stroke-width="2.2" fill="none"/>
<text x="872.12" y="1149.2" font-size="47.5" textLength="39.84" lengthAdjust="spacingAndGlyphs" stroke="#fff" stroke-width="0.8">p.</text>
<text x="966.97" y="1149.2" font-size="48" textLength="105.25" lengthAdjust="spacingAndGlyphs" stroke="#fff" stroke-width="0.8">TGFb</text>
<path d="M961.34 1411V1405.54H982.86V1411Z" fill="#9a9a9a"/>
<path d="M961.34 1411V1405.54H982.86V1411" fill="none" stroke="#050505" stroke-width="3.08"/>
<path d="M972.1 1396.6V1408M965.9 1396.6h12.39M965.9 1408h12.39" stroke="#050505" stroke-width="1.9" fill="none"/>
<path d="M999.04 1411V1364.34H1020.56V1411Z" fill="#8cb0cc"/>
<path d="M999.04 1411V1364.34H1020.56V1411" fill="none" stroke="#0b3650" stroke-width="3.08"/>
<path d="M1009.8 1334.2V1389.2M1003.6 1334.2h12.39M1003.6 1389.2h12.39" stroke="#0b3650" stroke-width="1.9" fill="none"/>
<path d="M946.7 1209.6V1411H1147.7" stroke="#000" stroke-width="2.1" fill="none"/>
<path d="M938.7 1210.6H946.7M938.7 1277.4H946.7M938.7 1344.2H946.7M938.7 1411H946.7M972.1 1411V1419.5M1009.8 1411V1419.5M1047.2 1411V1419.5M1084.7 1411V1419.5M1122.3 1411V1419.5" stroke="#000" stroke-width="2" fill="none"/>
<rect x="1034.81" y="1406.84" width="24.78" height="8.31" rx="4.16" fill="#f8cd48"/>
<rect x="1072.31" y="1406.84" width="24.78" height="8.31" rx="4.16" fill="#c4e2ce"/>
<rect x="1109.91" y="1406.84" width="24.78" height="8.31" rx="4.16" fill="#f5e9bb"/>
<circle cx="972.1" cy="1370.8" r="4.16" fill="#333333"/>
<circle cx="968" cy="1402" r="4.16" fill="#333333"/>
<circle cx="963.7" cy="1411" r="4.16" fill="#333333"/>
<circle cx="972.1" cy="1408.9" r="4.16" fill="#333333"/>
<circle cx="980.6" cy="1411" r="4.16" fill="#333333"/>
<circle cx="1009.8" cy="1251.9" r="4.16" fill="#1f6197"/>
<circle cx="1009.8" cy="1259.1" r="4.16" fill="#1f6197"/>
<circle cx="1009.8" cy="1381.4" r="4.16" fill="#1f6197"/>
<circle cx="1000.7" cy="1411" r="4.16" fill="#1f6197"/>
<circle cx="1007.5" cy="1406.8" r="4.16" fill="#1f6197"/>
<circle cx="1017.6" cy="1411" r="4.16" fill="#1f6197"/>
<circle cx="1019.5" cy="1411" r="4.16" fill="#1f6197"/>
<text x="936.9" y="1217.1" font-size="17.2" text-anchor="end">6000</text>
<text x="936.9" y="1283.9" font-size="17.2" text-anchor="end">4000</text>
<text x="936.9" y="1350.7" font-size="17.2" text-anchor="end">2000</text>
<text x="936.9" y="1417.5" font-size="17.2" text-anchor="end">0</text>
<text x="1193.52" y="1150.5" font-size="47.5" textLength="41.3" lengthAdjust="spacingAndGlyphs" stroke="#fff" stroke-width="0.8">q.</text>
<text x="1272.1" y="1150.5" font-size="48" textLength="99.7" lengthAdjust="spacingAndGlyphs" stroke="#fff" stroke-width="0.8">TNFa</text>
<path d="M1231.97 1407.4V1330.28H1255.43V1407.4Z" fill="#9a9a9a"/>
<path d="M1231.97 1407.4V1330.28H1255.43V1407.4" fill="none" stroke="#050505" stroke-width="3.36"/>
<path d="M1243.7 1300.8V1355M1236.95 1300.8h13.51M1236.95 1355h13.51" stroke="#050505" stroke-width="1.9" fill="none"/>
<path d="M1272.67 1407.4V1335.18H1296.13V1407.4Z" fill="#8cb0cc"/>
<path d="M1272.67 1407.4V1335.18H1296.13V1407.4" fill="none" stroke="#0b3650" stroke-width="3.36"/>
<path d="M1284.4 1310.3V1355M1277.65 1310.3h13.51M1277.65 1355h13.51" stroke="#0b3650" stroke-width="1.9" fill="none"/>
<path d="M1313.67 1407.4V1369.38H1337.13V1407.4Z" fill="#fde6a2"/>
<path d="M1313.67 1407.4V1369.38H1337.13V1407.4" fill="none" stroke="#7a5b22" stroke-width="3.36"/>
<path d="M1325.4 1352.5V1382M1318.65 1352.5h13.51M1318.65 1382h13.51" stroke="#7a5b22" stroke-width="1.9" fill="none"/>
<path d="M1354.67 1407.4V1326.18H1378.13V1407.4Z" fill="#dcefe3"/>
<path d="M1354.67 1407.4V1326.18H1378.13V1407.4" fill="none" stroke="#3f7469" stroke-width="3.36"/>
<path d="M1366.4 1295.7V1351.8M1359.65 1295.7h13.51M1359.65 1351.8h13.51" stroke="#3f7469" stroke-width="1.9" fill="none"/>
<path d="M1216.9 1188V1407.4H1435.7" stroke="#000" stroke-width="2.1" fill="none"/>
<path d="M1208.9 1189H1216.9M1208.9 1243.6H1216.9M1208.9 1298.2H1216.9M1208.9 1352.8H1216.9M1208.9 1407.4H1216.9M1243.7 1407.4V1415.9M1284.4 1407.4V1415.9M1325.4 1407.4V1415.9M1366.4 1407.4V1415.9M1407.4 1407.4V1415.9" stroke="#000" stroke-width="2" fill="none"/>
<rect x="1393.89" y="1402.88" width="27.01" height="9.04" rx="4.52" fill="#f5e9bb"/>
<circle cx="1243.7" cy="1239.1" r="4.52" fill="#333333"/>
<circle cx="1243.7" cy="1247.6" r="4.52" fill="#333333"/>
<circle cx="1243.7" cy="1282.5" r="4.52" fill="#333333"/>
<circle cx="1235.2" cy="1355" r="4.52" fill="#333333"/>
<circle cx="1252.7" cy="1355" r="4.52" fill="#333333"/>
<circle cx="1235.2" cy="1407" r="4.52" fill="#333333"/>
<circle cx="1252.7" cy="1407" r="4.52" fill="#333333"/>
<circle cx="1275.4" cy="1272.8" r="4.52" fill="#1f6197"/>
<circle cx="1293.7" cy="1277.6" r="4.52" fill="#1f6197"/>
<circle cx="1284.7" cy="1289.1" r="4.52" fill="#1f6197"/>
<circle cx="1284.7" cy="1313.5" r="4.52" fill="#1f6197"/>
<circle cx="1284.7" cy="1360.6" r="4.52" fill="#1f6197"/>
<circle cx="1275.4" cy="1407" r="4.52" fill="#1f6197"/>
<circle cx="1293.7" cy="1407" r="4.52" fill="#1f6197"/>
<circle cx="1325.4" cy="1324" r="4.52" fill="#f8cd48"/>
<circle cx="1325.4" cy="1348.9" r="4.52" fill="#f8cd48"/>
<circle cx="1325.4" cy="1372" r="4.52" fill="#f8cd48"/>
<circle cx="1325.4" cy="1381.8" r="4.52" fill="#f8cd48"/>
<circle cx="1325.4" cy="1407" r="4.52" fill="#f8cd48"/>
<circle cx="1366.4" cy="1239.1" r="4.52" fill="#c4e2ce"/>
<circle cx="1366.4" cy="1275.7" r="4.52" fill="#c4e2ce"/>
<circle cx="1366.4" cy="1300" r="4.52" fill="#c4e2ce"/>
<circle cx="1366.4" cy="1313.5" r="4.52" fill="#c4e2ce"/>
<circle cx="1357.2" cy="1407" r="4.52" fill="#c4e2ce"/>
<circle cx="1375.5" cy="1407" r="4.52" fill="#c4e2ce"/>
<text x="1207.1" y="1195.5" font-size="17.2" text-anchor="end">40</text>
<text x="1207.1" y="1250.1" font-size="17.2" text-anchor="end">30</text>
<text x="1207.1" y="1304.7" font-size="17.2" text-anchor="end">20</text>
<text x="1207.1" y="1359.3" font-size="17.2" text-anchor="end">10</text>
<text x="1207.1" y="1413.9" font-size="17.2" text-anchor="end">0</text>
<text x="46.81" y="1516.2" font-size="47.5" textLength="41.61" lengthAdjust="spacingAndGlyphs" stroke="#fff" stroke-width="0.8">A.</text>
<text x="169.59" y="1516.2" font-size="48" textLength="101.58" lengthAdjust="spacingAndGlyphs" stroke="#fff" stroke-width="0.8">IL-1b</text>
<path d="M210.21 1706.5V1673.46H231.99V1706.5Z" fill="#fde6a2"/>
<path d="M210.21 1706.5V1673.46H231.99V1706.5" fill="none" stroke="#7a5b22" stroke-width="3.12"/>
<path d="M221.1 1644.3V1696.5M214.83 1644.3h12.54M214.83 1696.5h12.54" stroke="#7a5b22" stroke-width="1.9" fill="none"/>
<path d="M119.8 1503.1V1706.5H322.9" stroke="#000" stroke-width="2.1" fill="none"/>
<path d="M111.8 1504.1H119.8M111.8 1544.58H119.8M111.8 1585.06H119.8M111.8 1625.54H119.8M111.8 1666.02H119.8M111.8 1706.5H119.8M144.7 1706.5V1715M182.8 1706.5V1715M221.1 1706.5V1715M258.6 1706.5V1715M296.7 1706.5V1715" stroke="#000" stroke-width="2" fill="none"/>
<rect x="132.16" y="1702.3" width="25.08" height="8.41" rx="4.2" fill="#333333"/>
<rect x="170.26" y="1702.3" width="25.08" height="8.41" rx="4.2" fill="#1f6197"/>
<rect x="246.06" y="1702.3" width="25.08" height="8.41" rx="4.2" fill="#c4e2ce"/>
<rect x="284.16" y="1702.3" width="25.08" height="8.41" rx="4.2" fill="#f5e9bb"/>
<circle cx="221.1" cy="1569.3" r="4.2" fill="#f8cd48"/>
<circle cx="221.1" cy="1665.7" r="4.2" fill="#f8cd48"/>
<circle cx="212.2" cy="1706.5" r="4.2" fill="#f8cd48"/>
<circle cx="221.1" cy="1706.5" r="4.2" fill="#f8cd48"/>
<circle cx="229.7" cy="1706.5" r="4.2" fill="#f8cd48"/>
<text x="110" y="1510.6" font-size="17.2" text-anchor="end">5</text>
<text x="110" y="1551.08" font-size="17.2" text-anchor="end">4</text>
<text x="110" y="1591.56" font-size="17.2" text-anchor="end">3</text>
<text x="110" y="1632.04" font-size="17.2" text-anchor="end">2</text>
<text x="110" y="1672.52" font-size="17.2" text-anchor="end">1</text>
<text x="110" y="1713" font-size="17.2" text-anchor="end">0</text>
<text x="380.55" y="1516.8" font-size="47.5" textLength="39.68" lengthAdjust="spacingAndGlyphs" stroke="#fff" stroke-width="0.8">B.</text>
<text x="553.47" y="1516.8" font-size="48" textLength="75.33" lengthAdjust="spacingAndGlyphs" stroke="#fff" stroke-width="0.8">IL-2</text>
<path d="M483.13 1706.7V1704.06H504.87V1706.7Z" fill="#9a9a9a"/>
<path d="M483.13 1706.7V1704.06H504.87V1706.7" fill="none" stroke="#050505" stroke-width="3.11"/>
<path d="M494 1698.2V1706M487.74 1698.2h12.52M487.74 1706h12.52" stroke="#050505" stroke-width="1.9" fill="none"/>
<path d="M521.13 1706.7V1688.56H542.87V1706.7Z" fill="#8cb0cc"/>
<path d="M521.13 1706.7V1688.56H542.87V1706.7" fill="none" stroke="#0b3650" stroke-width="3.11"/>
<path d="M532 1674.3V1700M525.74 1674.3h12.52M525.74 1700h12.52" stroke="#0b3650" stroke-width="1.9" fill="none"/>
<path d="M558.73 1706.7V1663.16H580.47V1706.7Z" fill="#fde6a2"/>
<path d="M558.73 1706.7V1663.16H580.47V1706.7" fill="none" stroke="#7a5b22" stroke-width="3.11"/>
<path d="M569.6 1639.8V1681.9M563.34 1639.8h12.52M563.34 1681.9h12.52" stroke="#7a5b22" stroke-width="1.9" fill="none"/>
<path d="M596.83 1706.7V1659.46H618.57V1706.7Z" fill="#dcefe3"/>
<path d="M596.83 1706.7V1659.46H618.57V1706.7" fill="none" stroke="#3f7469" stroke-width="3.11"/>
<path d="M607.7 1634V1681.3M601.44 1634h12.52M601.44 1681.3h12.52" stroke="#3f7469" stroke-width="1.9" fill="none"/>
<path d="M634.93 1706.7V1701.16H656.67V1706.7Z" fill="#fbf4dd"/>
<path d="M634.93 1706.7V1701.16H656.67V1706.7" fill="none" stroke="#9c9a4b" stroke-width="3.11"/>
<path d="M645.8 1694V1704M639.54 1694h12.52M639.54 1704h12.52" stroke="#9c9a4b" stroke-width="1.9" fill="none"/>
<path d="M468 1502.6V1706.7H672.6" stroke="#000" stroke-width="2.1" fill="none"/>
<path d="M460 1503.6H468M460 1544.22H468M460 1584.84H468M460 1625.46H468M460 1666.08H468M460 1706.7H468M494 1706.7V1715.2M532 1706.7V1715.2M569.6 1706.7V1715.2M607.7 1706.7V1715.2M645.8 1706.7V1715.2" stroke="#000" stroke-width="2" fill="none"/>
<circle cx="494" cy="1690.3" r="4.2" fill="#333333"/>
<circle cx="494" cy="1698.2" r="4.2" fill="#333333"/>
<circle cx="485.5" cy="1706.7" r="4.2" fill="#333333"/>
<circle cx="494" cy="1706.7" r="4.2" fill="#333333"/>
<circle cx="502.5" cy="1706.7" r="4.2" fill="#333333"/>
<circle cx="532" cy="1629.7" r="4.2" fill="#1f6197"/>
<circle cx="532" cy="1670" r="4.2" fill="#1f6197"/>
<circle cx="532" cy="1698.2" r="4.2" fill="#1f6197"/>
<circle cx="523" cy="1706.7" r="4.2" fill="#1f6197"/>
<circle cx="532" cy="1706.7" r="4.2" fill="#1f6197"/>
<circle cx="540.5" cy="1706.7" r="4.2" fill="#1f6197"/>
<circle cx="569.6" cy="1597.3" r="4.2" fill="#f8cd48"/>
<circle cx="569.6" cy="1613.6" r="4.2" fill="#f8cd48"/>
<circle cx="569.6" cy="1634" r="4.2" fill="#f8cd48"/>
<circle cx="560.8" cy="1706.7" r="4.2" fill="#f8cd48"/>
<circle cx="569.6" cy="1706.7" r="4.2" fill="#f8cd48"/>
<circle cx="578.4" cy="1706.7" r="4.2" fill="#f8cd48"/>
<circle cx="607.7" cy="1577" r="4.2" fill="#c4e2ce"/>
<circle cx="607.7" cy="1637.6" r="4.2" fill="#c4e2ce"/>
<circle cx="607.7" cy="1661.6" r="4.2" fill="#c4e2ce"/>
<circle cx="599.2" cy="1706.7" r="4.2" fill="#c4e2ce"/>
<circle cx="616.1" cy="1703" r="4.2" fill="#c4e2ce"/>
<circle cx="645.8" cy="1682.2" r="4.2" fill="#f5e9bb"/>
<circle cx="645.8" cy="1694" r="4.2" fill="#f5e9bb"/>
<circle cx="637.8" cy="1706.7" r="4.2" fill="#f5e9bb"/>
<circle cx="645.8" cy="1706.7" r="4.2" fill="#f5e9bb"/>
<circle cx="654.2" cy="1706.7" r="4.2" fill="#f5e9bb"/>
<text x="458.2" y="1510.1" font-size="17.2" text-anchor="end">5</text>
<text x="458.2" y="1550.72" font-size="17.2" text-anchor="end">4</text>
<text x="458.2" y="1591.34" font-size="17.2" text-anchor="end">3</text>
<text x="458.2" y="1631.96" font-size="17.2" text-anchor="end">2</text>
<text x="458.2" y="1672.58" font-size="17.2" text-anchor="end">1</text>
<text x="458.2" y="1713.2" font-size="17.2" text-anchor="end">0</text>
<text x="782.09" y="1516.2" font-size="47.5" textLength="41.61" lengthAdjust="spacingAndGlyphs" stroke="#fff" stroke-width="0.8">C.</text>
<text x="918.11" y="1516.2" font-size="48" textLength="76.39" lengthAdjust="spacingAndGlyphs" stroke="#fff" stroke-width="0.8">IL-4</text>
<path d="M921.46 1707.3V1703.57H943.34V1707.3Z" fill="#8cb0cc"/>
<path d="M921.46 1707.3V1703.57H943.34V1707.3" fill="none" stroke="#0b3650" stroke-width="3.13"/>
<path d="M960.06 1707.3V1627.57H981.94V1707.3Z" fill="#fde6a2"/>
<path d="M960.06 1707.3V1627.57H981.94V1707.3" fill="none" stroke="#7a5b22" stroke-width="3.13"/>
<path d="M971 1585.3V1665.2M964.7 1585.3h12.61M964.7 1665.2h12.61" stroke="#7a5b22" stroke-width="1.9" fill="none"/>
<path d="M1036.46 1707.3V1657.37H1058.34V1707.3Z" fill="#fbf4dd"/>
<path d="M1036.46 1707.3V1657.37H1058.34V1707.3" fill="none" stroke="#9c9a4b" stroke-width="3.13"/>
<path d="M1047.4 1625V1685.8M1041.1 1625h12.61M1041.1 1685.8h12.61" stroke="#9c9a4b" stroke-width="1.9" fill="none"/>
<path d="M870 1502.6V1707.3H1073.6" stroke="#000" stroke-width="2.1" fill="none"/>
<path d="M862 1503.6H870M862 1571.5H870M862 1639.4H870M862 1707.3H870M894.6 1707.3V1715.8M932.4 1707.3V1715.8M971 1707.3V1715.8M1009.3 1707.3V1715.8M1047.4 1707.3V1715.8" stroke="#000" stroke-width="2" fill="none"/>
<rect x="881.99" y="1703.07" width="25.21" height="8.45" rx="4.23" fill="#333333"/>
<rect x="919.79" y="1703.07" width="25.21" height="8.45" rx="4.23" fill="#1f6197"/>
<rect x="996.69" y="1703.07" width="25.21" height="8.45" rx="4.23" fill="#c4e2ce"/>
<circle cx="933" cy="1694.4" r="4.23" fill="#1f6197"/>
<circle cx="971" cy="1509" r="4.23" fill="#f8cd48"/>
<circle cx="971" cy="1651.5" r="4.23" fill="#f8cd48"/>
<circle cx="971" cy="1682.6" r="4.23" fill="#f8cd48"/>
<circle cx="962.4" cy="1707.3" r="4.23" fill="#f8cd48"/>
<circle cx="979.6" cy="1707.3" r="4.23" fill="#f8cd48"/>
<circle cx="1047.6" cy="1551.3" r="4.23" fill="#f5e9bb"/>
<circle cx="1047.6" cy="1567.9" r="4.23" fill="#f5e9bb"/>
<circle cx="1047.6" cy="1692.5" r="4.23" fill="#f5e9bb"/>
<circle cx="1038.8" cy="1707.3" r="4.23" fill="#f5e9bb"/>
<circle cx="1047.6" cy="1707.3" r="4.23" fill="#f5e9bb"/>
<circle cx="1056.2" cy="1707.3" r="4.23" fill="#f5e9bb"/>
<text x="860.2" y="1510.1" font-size="17.2" text-anchor="end">15</text>
<text x="860.2" y="1578" font-size="17.2" text-anchor="end">10</text>
<text x="860.2" y="1645.9" font-size="17.2" text-anchor="end">5</text>
<text x="860.2" y="1713.8" font-size="17.2" text-anchor="end">0</text>
<text x="1127.05" y="1516.5" font-size="47.5" textLength="42.1" lengthAdjust="spacingAndGlyphs" stroke="#fff" stroke-width="0.8">D.</text>
<text x="1264.69" y="1516.5" font-size="48" textLength="76.67" lengthAdjust="spacingAndGlyphs" stroke="#fff" stroke-width="0.8">IL-5</text>
<path d="M1220.94 1706.4V1695.11H1242.06V1706.4Z" fill="#9a9a9a"/>
<path d="M1220.94 1706.4V1695.11H1242.06V1706.4" fill="none" stroke="#050505" stroke-width="3.02"/>
<path d="M1231.5 1683.3V1700M1225.42 1683.3h12.17M1225.42 1700h12.17" stroke="#050505" stroke-width="1.9" fill="none"/>
<path d="M1257.64 1706.4V1681.51H1278.76V1706.4Z" fill="#8cb0cc"/>
<path d="M1257.64 1706.4V1681.51H1278.76V1706.4" fill="none" stroke="#0b3650" stroke-width="3.02"/>
<path d="M1268.2 1667V1691.7M1262.12 1667h12.17M1262.12 1691.7h12.17" stroke="#0b3650" stroke-width="1.9" fill="none"/>
<path d="M1294.44 1706.4V1662.51H1315.56V1706.4Z" fill="#fde6a2"/>
<path d="M1294.44 1706.4V1662.51H1315.56V1706.4" fill="none" stroke="#7a5b22" stroke-width="3.02"/>
<path d="M1305 1636V1685.4M1298.92 1636h12.17M1298.92 1685.4h12.17" stroke="#7a5b22" stroke-width="1.9" fill="none"/>
<path d="M1331.64 1706.4V1666.01H1352.76V1706.4Z" fill="#dcefe3"/>
<path d="M1331.64 1706.4V1666.01H1352.76V1706.4" fill="none" stroke="#3f7469" stroke-width="3.02"/>
<path d="M1342.2 1643.3V1684.6M1336.12 1643.3h12.17M1336.12 1684.6h12.17" stroke="#3f7469" stroke-width="1.9" fill="none"/>
<path d="M1368.44 1706.4V1670.11H1389.56V1706.4Z" fill="#fbf4dd"/>
<path d="M1368.44 1706.4V1670.11H1389.56V1706.4" fill="none" stroke="#9c9a4b" stroke-width="3.02"/>
<path d="M1379 1656.9V1679.5M1372.92 1656.9h12.17M1372.92 1679.5h12.17" stroke="#9c9a4b" stroke-width="1.9" fill="none"/>
<path d="M1206.7 1502.9V1706.4H1404.3" stroke="#000" stroke-width="2.1" fill="none"/>
<path d="M1198.7 1503.9H1206.7M1198.7 1554.53H1206.7M1198.7 1605.15H1206.7M1198.7 1655.78H1206.7M1198.7 1706.4H1206.7M1231.5 1706.4V1714.9M1268.2 1706.4V1714.9M1305 1706.4V1714.9M1342.2 1706.4V1714.9M1379 1706.4V1714.9" stroke="#000" stroke-width="2" fill="none"/>
<circle cx="1231.5" cy="1657.4" r="4.08" fill="#333333"/>
<circle cx="1231.5" cy="1687.6" r="4.08" fill="#333333"/>
<circle cx="1223.3" cy="1706.4" r="4.08" fill="#333333"/>
<circle cx="1231.5" cy="1703" r="4.08" fill="#333333"/>
<circle cx="1240.2" cy="1706.4" r="4.08" fill="#333333"/>
<circle cx="1268.2" cy="1624.7" r="4.08" fill="#1f6197"/>
<circle cx="1268.2" cy="1670" r="4.08" fill="#1f6197"/>
<circle cx="1260.6" cy="1684.6" r="4.08" fill="#1f6197"/>
<circle cx="1277" cy="1684.6" r="4.08" fill="#1f6197"/>
<circle cx="1260" cy="1706.4" r="4.08" fill="#1f6197"/>
<circle cx="1277" cy="1706.4" r="4.08" fill="#1f6197"/>
<circle cx="1305.5" cy="1557" r="4.08" fill="#f8cd48"/>
<circle cx="1305.5" cy="1616" r="4.08" fill="#f8cd48"/>
<circle cx="1296.5" cy="1689" r="4.08" fill="#f8cd48"/>
<circle cx="1313.7" cy="1689" r="4.08" fill="#f8cd48"/>
<circle cx="1296.5" cy="1706.4" r="4.08" fill="#f8cd48"/>
<circle cx="1313.7" cy="1706.4" r="4.08" fill="#f8cd48"/>
<circle cx="1342.2" cy="1601.6" r="4.08" fill="#c4e2ce"/>
<circle cx="1342.2" cy="1628.8" r="4.08" fill="#c4e2ce"/>
<circle cx="1342.2" cy="1679.5" r="4.08" fill="#c4e2ce"/>
<circle cx="1334" cy="1706.4" r="4.08" fill="#c4e2ce"/>
<circle cx="1350.4" cy="1701" r="4.08" fill="#c4e2ce"/>
<circle cx="1379" cy="1630.5" r="4.08" fill="#f5e9bb"/>
<circle cx="1379" cy="1650.9" r="4.08" fill="#f5e9bb"/>
<circle cx="1379" cy="1667.7" r="4.08" fill="#f5e9bb"/>
<circle cx="1379" cy="1689.5" r="4.08" fill="#f5e9bb"/>
<circle cx="1379" cy="1706.4" r="4.08" fill="#f5e9bb"/>
<text x="1196.9" y="1510.4" font-size="17.2" text-anchor="end">200</text>
<text x="1196.9" y="1561.03" font-size="17.2" text-anchor="end">150</text>
<text x="1196.9" y="1611.65" font-size="17.2" text-anchor="end">100</text>
<text x="1196.9" y="1662.28" font-size="17.2" text-anchor="end">50</text>
<text x="1196.9" y="1712.9" font-size="17.2" text-anchor="end">0</text>
<text x="46.33" y="1752.8" font-size="47.5" textLength="37.72" lengthAdjust="spacingAndGlyphs" stroke="#fff" stroke-width="0.8">E.</text>
<text x="169.62" y="1752.8" font-size="48" textLength="76.23" lengthAdjust="spacingAndGlyphs" stroke="#fff" stroke-width="0.8">IL-6</text>
<path d="M239.73 2024.3V1904.37H260.27V2024.3Z" fill="#dcefe3"/>
<path d="M239.73 2024.3V1904.37H260.27V2024.3" fill="none" stroke="#3f7469" stroke-width="2.94"/>
<path d="M250 1842.8V1961.3M244.08 1842.8h11.83M244.08 1961.3h11.83" stroke="#3f7469" stroke-width="1.9" fill="none"/>
<path d="M118.7 1832.2V2024.3H310.3" stroke="#000" stroke-width="2.1" fill="none"/>
<path d="M110.7 1833.2H118.7M110.7 1880.97H118.7M110.7 1928.75H118.7M110.7 1976.53H118.7M110.7 2024.3H118.7M142.8 2024.3V2032.8M178.2 2024.3V2032.8M214.4 2024.3V2032.8M250 2024.3V2032.8M286.2 2024.3V2032.8" stroke="#000" stroke-width="2" fill="none"/>
<rect x="130.97" y="2020.33" width="23.66" height="7.94" rx="3.97" fill="#333333"/>
<rect x="166.37" y="2020.33" width="23.66" height="7.94" rx="3.97" fill="#1f6197"/>
<rect x="202.57" y="2020.33" width="23.66" height="7.94" rx="3.97" fill="#f8cd48"/>
<rect x="274.37" y="2020.33" width="23.66" height="7.94" rx="3.97" fill="#f5e9bb"/>
<circle cx="250" cy="1864" r="3.97" fill="#c4e2ce"/>
<circle cx="250" cy="1966.6" r="3.97" fill="#c4e2ce"/>
<circle cx="250" cy="1992.1" r="3.97" fill="#c4e2ce"/>
<circle cx="250" cy="2000.1" r="3.97" fill="#c4e2ce"/>
<text x="108.9" y="1839.7" font-size="17.2" text-anchor="end">4000</text>
<text x="108.9" y="1887.47" font-size="17.2" text-anchor="end">3000</text>
<text x="108.9" y="1935.25" font-size="17.2" text-anchor="end">2000</text>
<text x="108.9" y="1983.03" font-size="17.2" text-anchor="end">1000</text>
<text x="108.9" y="2030.8" font-size="17.2" text-anchor="end">0</text>
<path d="M142.8 2012.2L142.8 1771L250.6 1771L250.6 1783.1" stroke="#000" stroke-width="1.8" fill="none"/>
<path d="M178.2 2012.2L178.2 1798.6L246.5 1798.6L246.5 1811.2" stroke="#000" stroke-width="1.8" fill="none"/>
<path d="M213.8 2012.2L213.8 1822.5L246.5 1822.5L246.5 1836.7" stroke="#000" stroke-width="1.8" fill="none"/>
<path d="M253.2 1835.3L253.2 1820.6L286.2 1820.6L286.2 2016.2" stroke="#000" stroke-width="1.8" fill="none"/>
<path d="M191.4 1755.05L191.4 1764.25M187.42 1757.35L195.38 1761.95M187.42 1761.95L195.38 1757.35M201.7 1755.05L201.7 1764.25M197.72 1757.35L205.68 1761.95M197.72 1761.95L205.68 1757.35" stroke="#000" stroke-width="2.2" fill="none"/>
<path d="M212.75 1782.45L212.75 1791.65M208.77 1784.75L216.73 1789.35M208.77 1789.35L216.73 1784.75" stroke="#000" stroke-width="2.2" fill="none"/>
<path d="M230.85 1806.65L230.85 1815.85M226.87 1808.95L234.83 1813.55M226.87 1813.55L234.83 1808.95" stroke="#000" stroke-width="2.2" fill="none"/>
<path d="M270.35 1805.1L270.35 1814.3M266.37 1807.4L274.33 1812M266.37 1812L274.33 1807.4" stroke="#000" stroke-width="2.2" fill="none"/>
<text x="381.19" y="1752.7" font-size="47.5" textLength="30.44" lengthAdjust="spacingAndGlyphs" stroke="#fff" stroke-width="0.8">F.</text>
<text x="553.32" y="1752.7" font-size="48" textLength="103.25" lengthAdjust="spacingAndGlyphs" stroke="#fff" stroke-width="0.8">IL-10</text>
<path d="M467.2 1819.5V2023H671.7" stroke="#000" stroke-width="2.1" fill="none"/>
<path d="M459.2 1820.5H467.2M459.2 1861H467.2M459.2 1901.5H467.2M459.2 1942H467.2M459.2 1982.5H467.2M459.2 2023H467.2M493.1 2023V2031.5M530.7 2023V2031.5M568.7 2023V2031.5M606.8 2023V2031.5M644.9 2023V2031.5" stroke="#000" stroke-width="2" fill="none"/>
<rect x="480.58" y="2018.8" width="25.05" height="8.4" rx="4.2" fill="#333333"/>
<rect x="518.18" y="2018.8" width="25.05" height="8.4" rx="4.2" fill="#1f6197"/>
<rect x="556.18" y="2018.8" width="25.05" height="8.4" rx="4.2" fill="#f8cd48"/>
<rect x="594.28" y="2018.8" width="25.05" height="8.4" rx="4.2" fill="#c4e2ce"/>
<rect x="632.38" y="2018.8" width="25.05" height="8.4" rx="4.2" fill="#f5e9bb"/>
<text x="454.7" y="1827.4" font-size="10.8" text-anchor="end" letter-spacing="2.1">1.0</text>
<text x="454.7" y="1867.9" font-size="10.8" text-anchor="end" letter-spacing="2.1">0.8</text>
<text x="454.7" y="1908.4" font-size="10.8" text-anchor="end" letter-spacing="2.1">0.6</text>
<text x="454.7" y="1948.9" font-size="10.8" text-anchor="end" letter-spacing="2.1">0.4</text>
<text x="454.7" y="1989.4" font-size="10.8" text-anchor="end" letter-spacing="2.1">0.2</text>
<text x="454.7" y="2029.9" font-size="10.8" text-anchor="end" letter-spacing="2.1">0.0</text>
<text x="782.88" y="1752.8" font-size="47.5" textLength="44.58" lengthAdjust="spacingAndGlyphs" stroke="#fff" stroke-width="0.8">G.</text>
<text x="918.92" y="1752.8" font-size="48" textLength="100.7" lengthAdjust="spacingAndGlyphs" stroke="#fff" stroke-width="0.8">IL-12</text>
<path d="M870 1816.4V2020.8H1073.6" stroke="#000" stroke-width="2.1" fill="none"/>
<path d="M862 1817.4H870M862 1858.08H870M862 1898.76H870M862 1939.44H870M862 1980.12H870M862 2020.8H870M894.9 2020.8V2029.3M933 2020.8V2029.3M971 2020.8V2029.3M1009.3 2020.8V2029.3M1047.4 2020.8V2029.3" stroke="#000" stroke-width="2" fill="none"/>
<rect x="882.32" y="2016.58" width="25.16" height="8.44" rx="4.22" fill="#333333"/>
<rect x="920.42" y="2016.58" width="25.16" height="8.44" rx="4.22" fill="#1f6197"/>
<rect x="958.42" y="2016.58" width="25.16" height="8.44" rx="4.22" fill="#f8cd48"/>
<rect x="996.72" y="2016.58" width="25.16" height="8.44" rx="4.22" fill="#c4e2ce"/>
<rect x="1034.82" y="2016.58" width="25.16" height="8.44" rx="4.22" fill="#f5e9bb"/>
<text x="860.2" y="1823.9" font-size="17.2" text-anchor="end">1.0</text>
<text x="860.2" y="1864.58" font-size="17.2" text-anchor="end">0.8</text>
<text x="860.2" y="1905.26" font-size="17.2" text-anchor="end">0.6</text>
<text x="860.2" y="1945.94" font-size="17.2" text-anchor="end">0.4</text>
<text x="860.2" y="1986.62" font-size="17.2" text-anchor="end">0.2</text>
<text x="860.2" y="2027.3" font-size="17.2" text-anchor="end">0.0</text>
<text x="1126.83" y="1753.5" font-size="47.5" textLength="44.76" lengthAdjust="spacingAndGlyphs" stroke="#fff" stroke-width="0.8">H.</text>
<text x="1264.64" y="1753" font-size="48" textLength="102.74" lengthAdjust="spacingAndGlyphs" stroke="#fff" stroke-width="0.8">IL-13</text>
<path d="M1221.73 2021.2V1953.36H1243.47V2021.2Z" fill="#9a9a9a"/>
<path d="M1221.73 2021.2V1953.36H1243.47V2021.2" fill="none" stroke="#050505" stroke-width="3.11"/>
<path d="M1232.6 1923.2V1979M1226.34 1923.2h12.52M1226.34 1979h12.52" stroke="#050505" stroke-width="1.9" fill="none"/>
<path d="M1259.83 2021.2V1971.06H1281.57V2021.2Z" fill="#8cb0cc"/>
<path d="M1259.83 2021.2V1971.06H1281.57V2021.2" fill="none" stroke="#0b3650" stroke-width="3.11"/>
<path d="M1270.7 1949.9V1987.7M1264.44 1949.9h12.52M1264.44 1987.7h12.52" stroke="#0b3650" stroke-width="1.9" fill="none"/>
<path d="M1297.93 2021.2V1973.76H1319.67V2021.2Z" fill="#fde6a2"/>
<path d="M1297.93 2021.2V1973.76H1319.67V2021.2" fill="none" stroke="#7a5b22" stroke-width="3.11"/>
<path d="M1308.8 1958.6V1987.2M1302.54 1958.6h12.52M1302.54 1987.2h12.52" stroke="#7a5b22" stroke-width="1.9" fill="none"/>
<path d="M1335.43 2021.2V1998.26H1357.17V2021.2Z" fill="#dcefe3"/>
<path d="M1335.43 2021.2V1998.26H1357.17V2021.2" fill="none" stroke="#3f7469" stroke-width="3.11"/>
<path d="M1346.3 1991.8V2000M1340.04 1991.8h12.52M1340.04 2000h12.52" stroke="#3f7469" stroke-width="1.9" fill="none"/>
<path d="M1373.53 2021.2V1969.16H1395.27V2021.2Z" fill="#fbf4dd"/>
<path d="M1373.53 2021.2V1969.16H1395.27V2021.2" fill="none" stroke="#9c9a4b" stroke-width="3.11"/>
<path d="M1384.4 1940V1993.4M1378.14 1940h12.52M1378.14 1993.4h12.52" stroke="#9c9a4b" stroke-width="1.9" fill="none"/>
<path d="M1207.5 1817.4V2021.2H1410.8" stroke="#000" stroke-width="2.1" fill="none"/>
<path d="M1199.5 1818.4H1207.5M1199.5 1886H1207.5M1199.5 1953.6H1207.5M1199.5 2021.2H1207.5M1232.6 2021.2V2029.7M1270.7 2021.2V2029.7M1308.8 2021.2V2029.7M1346.3 2021.2V2029.7M1384.4 2021.2V2029.7" stroke="#000" stroke-width="2" fill="none"/>
<circle cx="1232.6" cy="1858.4" r="4.2" fill="#333333"/>
<circle cx="1232.6" cy="1919.1" r="4.2" fill="#333333"/>
<circle cx="1232.6" cy="1973.5" r="4.2" fill="#333333"/>
<circle cx="1232.6" cy="1992.6" r="4.2" fill="#333333"/>
<circle cx="1232.6" cy="2011.6" r="4.2" fill="#333333"/>
<circle cx="1270.7" cy="1879.6" r="4.2" fill="#1f6197"/>
<circle cx="1262" cy="1971.4" r="4.2" fill="#1f6197"/>
<circle cx="1278.3" cy="1976.3" r="4.2" fill="#1f6197"/>
<circle cx="1270.7" cy="1979" r="4.2" fill="#1f6197"/>
<circle cx="1270.7" cy="1988.5" r="4.2" fill="#1f6197"/>
<circle cx="1270.7" cy="2018.5" r="4.2" fill="#1f6197"/>
<circle cx="1308.8" cy="1914.2" r="4.2" fill="#f8cd48"/>
<circle cx="1300" cy="1971.4" r="4.2" fill="#f8cd48"/>
<circle cx="1308.8" cy="1968.6" r="4.2" fill="#f8cd48"/>
<circle cx="1317.7" cy="1971.4" r="4.2" fill="#f8cd48"/>
<circle cx="1308.8" cy="1988.5" r="4.2" fill="#f8cd48"/>
<circle cx="1308.8" cy="2021.2" r="4.2" fill="#f8cd48"/>
<circle cx="1346.3" cy="1983.9" r="4.2" fill="#c4e2ce"/>
<circle cx="1338.7" cy="2002" r="4.2" fill="#c4e2ce"/>
<circle cx="1346.3" cy="1998" r="4.2" fill="#c4e2ce"/>
<circle cx="1355" cy="1998" r="4.2" fill="#c4e2ce"/>
<circle cx="1384.4" cy="1875" r="4.2" fill="#f5e9bb"/>
<circle cx="1384.4" cy="1896" r="4.2" fill="#f5e9bb"/>
<circle cx="1384.4" cy="1971.4" r="4.2" fill="#f5e9bb"/>
<circle cx="1384.4" cy="2015.7" r="4.2" fill="#f5e9bb"/>
<circle cx="1376.3" cy="2021.2" r="4.2" fill="#f5e9bb"/>
<circle cx="1393.4" cy="2021.2" r="4.2" fill="#f5e9bb"/>
<text x="1197.7" y="1824.9" font-size="17.2" text-anchor="end">60</text>
<text x="1197.7" y="1892.5" font-size="17.2" text-anchor="end">40</text>
<text x="1197.7" y="1960.1" font-size="17.2" text-anchor="end">20</text>
<text x="1197.7" y="2027.7" font-size="17.2" text-anchor="end">0</text>
<text x="44.96" y="2064.7" font-size="47.5" textLength="27.93" lengthAdjust="spacingAndGlyphs" stroke="#fff" stroke-width="0.8">I.</text>
<text x="169.57" y="2064.7" font-size="48" textLength="101.98" lengthAdjust="spacingAndGlyphs" stroke="#fff" stroke-width="0.8">IL-17</text>
<path d="M133.8 2283.2V2280.16H155.6V2283.2Z" fill="#9a9a9a"/>
<path d="M133.8 2283.2V2280.16H155.6V2283.2" fill="none" stroke="#050505" stroke-width="3.12"/>
<path d="M144.7 2276V2281M138.42 2276h12.56M138.42 2281h12.56" stroke="#050505" stroke-width="1.9" fill="none"/>
<path d="M172.1 2283.2V2271.36H193.9V2283.2Z" fill="#8cb0cc"/>
<path d="M172.1 2283.2V2271.36H193.9V2283.2" fill="none" stroke="#0b3650" stroke-width="3.12"/>
<path d="M183 2262V2276M176.72 2262h12.56M176.72 2276h12.56" stroke="#0b3650" stroke-width="1.9" fill="none"/>
<path d="M248.2 2283.2V2253.36H270V2283.2Z" fill="#dcefe3"/>
<path d="M248.2 2283.2V2253.36H270V2283.2" fill="none" stroke="#3f7469" stroke-width="3.12"/>
<path d="M259.1 2233.6V2267.9M252.82 2233.6h12.56M252.82 2267.9h12.56" stroke="#3f7469" stroke-width="1.9" fill="none"/>
<path d="M119.3 2079.3V2283.2H323.5" stroke="#000" stroke-width="2.1" fill="none"/>
<path d="M111.3 2080.3H119.3M111.3 2120.88H119.3M111.3 2161.46H119.3M111.3 2202.04H119.3M111.3 2242.62H119.3M111.3 2283.2H119.3M144.7 2283.2V2291.7M183 2283.2V2291.7M221.1 2283.2V2291.7M259.1 2283.2V2291.7M296.9 2283.2V2291.7" stroke="#000" stroke-width="2" fill="none"/>
<rect x="208.54" y="2278.99" width="25.11" height="8.42" rx="4.21" fill="#f8cd48"/>
<rect x="284.34" y="2278.99" width="25.11" height="8.42" rx="4.21" fill="#f5e9bb"/>
<circle cx="144.7" cy="2274.6" r="4.21" fill="#333333"/>
<circle cx="136.7" cy="2283.2" r="4.21" fill="#333333"/>
<circle cx="144.7" cy="2280" r="4.21" fill="#333333"/>
<circle cx="153.3" cy="2283.2" r="4.21" fill="#333333"/>
<circle cx="178.2" cy="2246.4" r="4.21" fill="#1f6197"/>
<circle cx="187.6" cy="2246.4" r="4.21" fill="#1f6197"/>
<circle cx="183" cy="2270.6" r="4.21" fill="#1f6197"/>
<circle cx="174.2" cy="2283.2" r="4.21" fill="#1f6197"/>
<circle cx="183" cy="2283.2" r="4.21" fill="#1f6197"/>
<circle cx="191.6" cy="2283.2" r="4.21" fill="#1f6197"/>
<circle cx="259.1" cy="2186.1" r="4.21" fill="#c4e2ce"/>
<circle cx="259.1" cy="2250.5" r="4.21" fill="#c4e2ce"/>
<circle cx="259.1" cy="2258" r="4.21" fill="#c4e2ce"/>
<circle cx="259.1" cy="2275.9" r="4.21" fill="#c4e2ce"/>
<circle cx="259.1" cy="2281" r="4.21" fill="#c4e2ce"/>
<text x="109.5" y="2086.8" font-size="17.2" text-anchor="end">5</text>
<text x="109.5" y="2127.38" font-size="17.2" text-anchor="end">4</text>
<text x="109.5" y="2167.96" font-size="17.2" text-anchor="end">3</text>
<text x="109.5" y="2208.54" font-size="17.2" text-anchor="end">2</text>
<text x="109.5" y="2249.12" font-size="17.2" text-anchor="end">1</text>
<text x="109.5" y="2289.7" font-size="17.2" text-anchor="end">0</text>
<text x="379.71" y="2065.1" font-size="47.5" textLength="29.45" lengthAdjust="spacingAndGlyphs" stroke="#fff" stroke-width="0.8">J.</text>
<text x="540.84" y="2065.1" font-size="48" textLength="124.08" lengthAdjust="spacingAndGlyphs" stroke="#fff" stroke-width="0.8">IL-17F</text>
<path d="M467.2 2075.4V2279H671.7" stroke="#000" stroke-width="2.1" fill="none"/>
<path d="M459.2 2076.4H467.2M459.2 2116.92H467.2M459.2 2157.44H467.2M459.2 2197.96H467.2M459.2 2238.48H467.2M459.2 2279H467.2M492.6 2279V2287.5M530.7 2279V2287.5M568.7 2279V2287.5M606.8 2279V2287.5M644.9 2279V2287.5" stroke="#000" stroke-width="2" fill="none"/>
<rect x="480.04" y="2274.79" width="25.13" height="8.42" rx="4.21" fill="#333333"/>
<rect x="518.14" y="2274.79" width="25.13" height="8.42" rx="4.21" fill="#1f6197"/>
<rect x="556.14" y="2274.79" width="25.13" height="8.42" rx="4.21" fill="#f8cd48"/>
<rect x="594.24" y="2274.79" width="25.13" height="8.42" rx="4.21" fill="#c4e2ce"/>
<rect x="632.34" y="2274.79" width="25.13" height="8.42" rx="4.21" fill="#f5e9bb"/>
<text x="457.4" y="2082.9" font-size="17.2" text-anchor="end">1.0</text>
<text x="457.4" y="2123.42" font-size="17.2" text-anchor="end">0.8</text>
<text x="457.4" y="2163.94" font-size="17.2" text-anchor="end">0.6</text>
<text x="457.4" y="2204.46" font-size="17.2" text-anchor="end">0.4</text>
<text x="457.4" y="2244.98" font-size="17.2" text-anchor="end">0.2</text>
<text x="457.4" y="2285.5" font-size="17.2" text-anchor="end">0.0</text>
<text x="782.57" y="2064.7" font-size="47.5" textLength="39.56" lengthAdjust="spacingAndGlyphs" stroke="#fff" stroke-width="0.8">K.</text>
<text x="904.69" y="2064.7" font-size="48" textLength="101.48" lengthAdjust="spacingAndGlyphs" stroke="#fff" stroke-width="0.8">IL-21</text>
<path d="M871.3 2075.3V2279.4H1075" stroke="#000" stroke-width="2.1" fill="none"/>
<path d="M863.3 2076.3H871.3M863.3 2116.92H871.3M863.3 2157.54H871.3M863.3 2198.16H871.3M863.3 2238.78H871.3M863.3 2279.4H871.3M896.8 2279.4V2287.9M934.8 2279.4V2287.9M973.1 2279.4V2287.9M1011.2 2279.4V2287.9M1049.5 2279.4V2287.9" stroke="#000" stroke-width="2" fill="none"/>
<rect x="884.2" y="2275.18" width="25.2" height="8.45" rx="4.22" fill="#333333"/>
<rect x="922.2" y="2275.18" width="25.2" height="8.45" rx="4.22" fill="#1f6197"/>
<rect x="960.5" y="2275.18" width="25.2" height="8.45" rx="4.22" fill="#f8cd48"/>
<rect x="998.6" y="2275.18" width="25.2" height="8.45" rx="4.22" fill="#c4e2ce"/>
<rect x="1036.9" y="2275.18" width="25.2" height="8.45" rx="4.22" fill="#f5e9bb"/>
<text x="861.5" y="2082.8" font-size="17.2" text-anchor="end">1.0</text>
<text x="861.5" y="2123.42" font-size="17.2" text-anchor="end">0.8</text>
<text x="861.5" y="2164.04" font-size="17.2" text-anchor="end">0.6</text>
<text x="861.5" y="2204.66" font-size="17.2" text-anchor="end">0.4</text>
<text x="861.5" y="2245.28" font-size="17.2" text-anchor="end">0.2</text>
<text x="861.5" y="2285.9" font-size="17.2" text-anchor="end">0.0</text>
<text x="1127.98" y="2065.4" font-size="47.5" textLength="33.71" lengthAdjust="spacingAndGlyphs" stroke="#fff" stroke-width="0.8">L.</text>
<text x="1265.18" y="2065.4" font-size="48" textLength="101.66" lengthAdjust="spacingAndGlyphs" stroke="#fff" stroke-width="0.8">IL-22</text>
<path d="M1208.3 2075.6V2279.4H1411.6" stroke="#000" stroke-width="2.1" fill="none"/>
<path d="M1200.3 2076.6H1208.3M1200.3 2117.16H1208.3M1200.3 2157.72H1208.3M1200.3 2198.28H1208.3M1200.3 2238.84H1208.3M1200.3 2279.4H1208.3M1233.4 2279.4V2287.9M1271.5 2279.4V2287.9M1309.6 2279.4V2287.9M1347.1 2279.4V2287.9M1385.2 2279.4V2287.9" stroke="#000" stroke-width="2" fill="none"/>
<rect x="1220.88" y="2275.2" width="25.05" height="8.4" rx="4.2" fill="#333333"/>
<rect x="1258.98" y="2275.2" width="25.05" height="8.4" rx="4.2" fill="#1f6197"/>
<rect x="1297.08" y="2275.2" width="25.05" height="8.4" rx="4.2" fill="#f8cd48"/>
<rect x="1334.58" y="2275.2" width="25.05" height="8.4" rx="4.2" fill="#c4e2ce"/>
<rect x="1372.68" y="2275.2" width="25.05" height="8.4" rx="4.2" fill="#f5e9bb"/>
<text x="1198.5" y="2083.1" font-size="17.2" text-anchor="end">1.0</text>
<text x="1198.5" y="2123.66" font-size="17.2" text-anchor="end">0.8</text>
<text x="1198.5" y="2164.22" font-size="17.2" text-anchor="end">0.6</text>
<text x="1198.5" y="2204.78" font-size="17.2" text-anchor="end">0.4</text>
<text x="1198.5" y="2245.34" font-size="17.2" text-anchor="end">0.2</text>
<text x="1198.5" y="2285.9" font-size="17.2" text-anchor="end">0.0</text>
<text x="44.86" y="2337.3" font-size="47.5" textLength="58.77" lengthAdjust="spacingAndGlyphs" stroke="#fff" stroke-width="0.8">M.</text>
<text x="170.51" y="2337.3" font-size="48" textLength="101.12" lengthAdjust="spacingAndGlyphs" stroke="#fff" stroke-width="0.8">IL-28</text>
<path d="M119.2 2392.6V2596.4H323.7" stroke="#000" stroke-width="2.1" fill="none"/>
<path d="M111.2 2393.6H119.2M111.2 2434.16H119.2M111.2 2474.72H119.2M111.2 2515.28H119.2M111.2 2555.84H119.2M111.2 2596.4H119.2M144.6 2596.4V2604.9M183 2596.4V2604.9M221.1 2596.4V2604.9M259 2596.4V2604.9M297.3 2596.4V2604.9" stroke="#000" stroke-width="2" fill="none"/>
<rect x="132" y="2592.18" width="25.2" height="8.45" rx="4.22" fill="#333333"/>
<rect x="170.4" y="2592.18" width="25.2" height="8.45" rx="4.22" fill="#1f6197"/>
<rect x="208.5" y="2592.18" width="25.2" height="8.45" rx="4.22" fill="#f8cd48"/>
<rect x="246.4" y="2592.18" width="25.2" height="8.45" rx="4.22" fill="#c4e2ce"/>
<rect x="284.7" y="2592.18" width="25.2" height="8.45" rx="4.22" fill="#f5e9bb"/>
<text x="109.4" y="2400.1" font-size="17.2" text-anchor="end">1.0</text>
<text x="109.4" y="2440.66" font-size="17.2" text-anchor="end">0.8</text>
<text x="109.4" y="2481.22" font-size="17.2" text-anchor="end">0.6</text>
<text x="109.4" y="2521.78" font-size="17.2" text-anchor="end">0.4</text>
<text x="109.4" y="2562.34" font-size="17.2" text-anchor="end">0.2</text>
<text x="109.4" y="2602.9" font-size="17.2" text-anchor="end">0.0</text>
<text x="341.5" y="2337.5" font-size="47.5" textLength="46.33" lengthAdjust="spacingAndGlyphs" stroke="#fff" stroke-width="0.8">N.</text>
<text x="433.5" y="2337.5" font-size="48" textLength="101.07" lengthAdjust="spacingAndGlyphs" stroke="#fff" stroke-width="0.8">IFNG</text>
<path d="M470.38 2596.8V2526.76H492.22V2596.8Z" fill="#fde6a2"/>
<path d="M470.38 2596.8V2526.76H492.22V2596.8" fill="none" stroke="#7a5b22" stroke-width="3.12"/>
<path d="M481.3 2493.1V2555.9M475.01 2493.1h12.57M475.01 2555.9h12.57" stroke="#7a5b22" stroke-width="1.9" fill="none"/>
<path d="M546.48 2596.8V2531.26H568.32V2596.8Z" fill="#fbf4dd"/>
<path d="M546.48 2596.8V2531.26H568.32V2596.8" fill="none" stroke="#9c9a4b" stroke-width="3.12"/>
<path d="M557.4 2497.2V2561M551.11 2497.2h12.57M551.11 2561h12.57" stroke="#9c9a4b" stroke-width="1.9" fill="none"/>
<path d="M379.5 2392.7V2596.8H584" stroke="#000" stroke-width="2.1" fill="none"/>
<path d="M371.5 2393.7H379.5M371.5 2434.32H379.5M371.5 2474.94H379.5M371.5 2515.56H379.5M371.5 2556.18H379.5M371.5 2596.8H379.5M405 2596.8V2605.3M442.9 2596.8V2605.3M481.3 2596.8V2605.3M519.6 2596.8V2605.3M557.4 2596.8V2605.3" stroke="#000" stroke-width="2" fill="none"/>
<rect x="392.43" y="2592.59" width="25.15" height="8.43" rx="4.21" fill="#333333"/>
<rect x="430.33" y="2592.59" width="25.15" height="8.43" rx="4.21" fill="#1f6197"/>
<rect x="507.03" y="2592.59" width="25.15" height="8.43" rx="4.21" fill="#c4e2ce"/>
<circle cx="481.3" cy="2425.4" r="4.21" fill="#f8cd48"/>
<circle cx="481.3" cy="2459.3" r="4.21" fill="#f8cd48"/>
<circle cx="481.3" cy="2483.9" r="4.21" fill="#f8cd48"/>
<circle cx="481.3" cy="2585.5" r="4.21" fill="#f8cd48"/>
<circle cx="472.7" cy="2596.8" r="4.21" fill="#f8cd48"/>
<circle cx="489.9" cy="2596.8" r="4.21" fill="#f8cd48"/>
<circle cx="557.4" cy="2425.4" r="4.21" fill="#f5e9bb"/>
<circle cx="557.4" cy="2438.7" r="4.21" fill="#f5e9bb"/>
<circle cx="557.4" cy="2540.5" r="4.21" fill="#f5e9bb"/>
<circle cx="549.2" cy="2584.5" r="4.21" fill="#f5e9bb"/>
<circle cx="565.6" cy="2587.6" r="4.21" fill="#f5e9bb"/>
<circle cx="557.4" cy="2596.8" r="4.21" fill="#f5e9bb"/>
<text x="369.7" y="2400.2" font-size="17.2" text-anchor="end">250</text>
<text x="369.7" y="2440.82" font-size="17.2" text-anchor="end">200</text>
<text x="369.7" y="2481.44" font-size="17.2" text-anchor="end">150</text>
<text x="369.7" y="2522.06" font-size="17.2" text-anchor="end">100</text>
<text x="369.7" y="2562.68" font-size="17.2" text-anchor="end">50</text>
<text x="369.7" y="2603.3" font-size="17.2" text-anchor="end">0</text>
<text x="603.24" y="2337.5" font-size="47.5" textLength="45.93" lengthAdjust="spacingAndGlyphs" stroke="#fff" stroke-width="0.8">O.</text>
<text x="679.35" y="2337.5" font-size="48" textLength="128.45" lengthAdjust="spacingAndGlyphs" stroke="#fff" stroke-width="0.8">MIP3a</text>
<path d="M652.97 2596.8V2594.28H675.03V2596.8Z" fill="#9a9a9a"/>
<path d="M652.97 2596.8V2594.28H675.03V2596.8" fill="none" stroke="#050505" stroke-width="3.16"/>
<path d="M664 2589.2V2595M657.65 2589.2h12.71M657.65 2595h12.71" stroke="#050505" stroke-width="1.9" fill="none"/>
<path d="M768.57 2596.8V2494.48H790.63V2596.8Z" fill="#dcefe3"/>
<path d="M768.57 2596.8V2494.48H790.63V2596.8" fill="none" stroke="#3f7469" stroke-width="3.16"/>
<path d="M779.6 2463.8V2520M773.25 2463.8h12.71M773.25 2520h12.71" stroke="#3f7469" stroke-width="1.9" fill="none"/>
<path d="M639.1 2390.6V2596.8H844.6" stroke="#000" stroke-width="2.1" fill="none"/>
<path d="M631.1 2391.6H639.1M631.1 2432.64H639.1M631.1 2473.68H639.1M631.1 2514.72H639.1M631.1 2555.76H639.1M631.1 2596.8H639.1M664 2596.8V2605.3M702.1 2596.8V2605.3M740.9 2596.8V2605.3M779.6 2596.8V2605.3M818 2596.8V2605.3" stroke="#000" stroke-width="2" fill="none"/>
<rect x="689.39" y="2592.54" width="25.41" height="8.52" rx="4.26" fill="#1f6197"/>
<rect x="728.19" y="2592.54" width="25.41" height="8.52" rx="4.26" fill="#f8cd48"/>
<rect x="805.29" y="2592.54" width="25.41" height="8.52" rx="4.26" fill="#f5e9bb"/>
<circle cx="664" cy="2580.8" r="4.26" fill="#333333"/>
<circle cx="655.5" cy="2596.8" r="4.26" fill="#333333"/>
<circle cx="664" cy="2592" r="4.26" fill="#333333"/>
<circle cx="672.5" cy="2596.8" r="4.26" fill="#333333"/>
<circle cx="676" cy="2596.8" r="4.26" fill="#333333"/>
<circle cx="771" cy="2428.7" r="4.26" fill="#c4e2ce"/>
<circle cx="788.4" cy="2431.7" r="4.26" fill="#c4e2ce"/>
<circle cx="779.6" cy="2487.4" r="4.26" fill="#c4e2ce"/>
<circle cx="779.6" cy="2549.7" r="4.26" fill="#c4e2ce"/>
<circle cx="779.6" cy="2561.6" r="4.26" fill="#c4e2ce"/>
<text x="629.3" y="2398.1" font-size="17.2" text-anchor="end">5000</text>
<text x="629.3" y="2439.14" font-size="17.2" text-anchor="end">4000</text>
<text x="629.3" y="2480.18" font-size="17.2" text-anchor="end">3000</text>
<text x="629.3" y="2521.22" font-size="17.2" text-anchor="end">2000</text>
<text x="629.3" y="2562.26" font-size="17.2" text-anchor="end">1000</text>
<text x="629.3" y="2603.3" font-size="17.2" text-anchor="end">0</text>
<path d="M702.1 2583.5L702.1 2361L780.6 2361L780.6 2372.8" stroke="#000" stroke-width="1.8" fill="none"/>
<path d="M740.9 2584.5L740.9 2404.1L780.6 2404.1L780.6 2415.8" stroke="#000" stroke-width="1.8" fill="none"/>
<path d="M742.1 2343.7L742.1 2352.9M738.12 2346L746.08 2350.6M738.12 2350.6L746.08 2346" stroke="#000" stroke-width="2.2" fill="none"/>
<path d="M749 2387.45L749 2396.65M745.02 2389.75L752.98 2394.35M745.02 2394.35L752.98 2389.75M760.75 2387.45L760.75 2396.65M756.77 2389.75L764.73 2394.35M756.77 2394.35L764.73 2389.75M772.5 2387.45L772.5 2396.65M768.52 2389.75L776.48 2394.35M768.52 2394.35L776.48 2389.75" stroke="#000" stroke-width="2.2" fill="none"/>
<text x="873.32" y="2337.5" font-size="47.5" textLength="29.76" lengthAdjust="spacingAndGlyphs" stroke="#fff" stroke-width="0.8">P.</text>
<text x="966.97" y="2337.5" font-size="48" textLength="105.25" lengthAdjust="spacingAndGlyphs" stroke="#fff" stroke-width="0.8">TGFb</text>
<path d="M998.89 2596.1V2579.26H1020.71V2596.1Z" fill="#8cb0cc"/>
<path d="M998.89 2596.1V2579.26H1020.71V2596.1" fill="none" stroke="#0b3650" stroke-width="3.12"/>
<path d="M1009.8 2568.2V2586.2M1003.52 2568.2h12.56M1003.52 2586.2h12.56" stroke="#0b3650" stroke-width="1.9" fill="none"/>
<path d="M1036.99 2596.1V2574.46H1058.81V2596.1Z" fill="#fde6a2"/>
<path d="M1036.99 2596.1V2574.46H1058.81V2596.1" fill="none" stroke="#7a5b22" stroke-width="3.12"/>
<path d="M1047.9 2550.2V2590M1041.62 2550.2h12.56M1041.62 2590h12.56" stroke="#7a5b22" stroke-width="1.9" fill="none"/>
<path d="M1075.09 2596.1V2539.06H1096.91V2596.1Z" fill="#dcefe3"/>
<path d="M1075.09 2596.1V2539.06H1096.91V2596.1" fill="none" stroke="#3f7469" stroke-width="3.12"/>
<path d="M1086 2498V2575M1079.72 2498h12.56M1079.72 2575h12.56" stroke="#3f7469" stroke-width="1.9" fill="none"/>
<path d="M1113.09 2596.1V2564.46H1134.91V2596.1Z" fill="#fbf4dd"/>
<path d="M1113.09 2596.1V2564.46H1134.91V2596.1" fill="none" stroke="#9c9a4b" stroke-width="3.12"/>
<path d="M1124 2544.5V2579.8M1117.72 2544.5h12.56M1117.72 2579.8h12.56" stroke="#9c9a4b" stroke-width="1.9" fill="none"/>
<path d="M946.7 2392V2596.1H1150.3" stroke="#000" stroke-width="2.1" fill="none"/>
<path d="M938.7 2393H946.7M938.7 2433.62H946.7M938.7 2474.24H946.7M938.7 2514.86H946.7M938.7 2555.48H946.7M938.7 2596.1H946.7M971.7 2596.1V2604.6M1009.8 2596.1V2604.6M1047.9 2596.1V2604.6M1086 2596.1V2604.6M1124 2596.1V2604.6" stroke="#000" stroke-width="2" fill="none"/>
<circle cx="967.9" cy="2587.9" r="4.21" fill="#333333"/>
<circle cx="976.4" cy="2588.7" r="4.21" fill="#333333"/>
<circle cx="963.2" cy="2596.1" r="4.21" fill="#333333"/>
<circle cx="972.1" cy="2594.6" r="4.21" fill="#333333"/>
<circle cx="980.6" cy="2596.1" r="4.21" fill="#333333"/>
<circle cx="1009.8" cy="2540.3" r="4.21" fill="#1f6197"/>
<circle cx="1005.6" cy="2564" r="4.21" fill="#1f6197"/>
<circle cx="1014.4" cy="2568.2" r="4.21" fill="#1f6197"/>
<circle cx="1001.3" cy="2596.1" r="4.21" fill="#1f6197"/>
<circle cx="1009.8" cy="2596.1" r="4.21" fill="#1f6197"/>
<circle cx="1018.7" cy="2596.1" r="4.21" fill="#1f6197"/>
<circle cx="1047.9" cy="2486.8" r="4.21" fill="#f8cd48"/>
<circle cx="1047.9" cy="2583" r="4.21" fill="#f8cd48"/>
<circle cx="1039.4" cy="2596.1" r="4.21" fill="#f8cd48"/>
<circle cx="1047.9" cy="2596.1" r="4.21" fill="#f8cd48"/>
<circle cx="1056.4" cy="2596.1" r="4.21" fill="#f8cd48"/>
<circle cx="1086" cy="2405.3" r="4.21" fill="#c4e2ce"/>
<circle cx="1086" cy="2492.5" r="4.21" fill="#c4e2ce"/>
<circle cx="1076.9" cy="2596.1" r="4.21" fill="#c4e2ce"/>
<circle cx="1086" cy="2592.5" r="4.21" fill="#c4e2ce"/>
<circle cx="1094.5" cy="2596.1" r="4.21" fill="#c4e2ce"/>
<circle cx="1124" cy="2485.7" r="4.21" fill="#f5e9bb"/>
<circle cx="1120.2" cy="2548.5" r="4.21" fill="#f5e9bb"/>
<circle cx="1128.3" cy="2553.4" r="4.21" fill="#f5e9bb"/>
<circle cx="1124" cy="2592.5" r="4.21" fill="#f5e9bb"/>
<circle cx="1115.6" cy="2596.1" r="4.21" fill="#f5e9bb"/>
<circle cx="1132.9" cy="2596.1" r="4.21" fill="#f5e9bb"/>
<text x="936.9" y="2399.5" font-size="17.2" text-anchor="end">10000</text>
<text x="936.9" y="2440.12" font-size="17.2" text-anchor="end">8000</text>
<text x="936.9" y="2480.74" font-size="17.2" text-anchor="end">6000</text>
<text x="936.9" y="2521.36" font-size="17.2" text-anchor="end">4000</text>
<text x="936.9" y="2561.98" font-size="17.2" text-anchor="end">2000</text>
<text x="936.9" y="2602.6" font-size="17.2" text-anchor="end">0</text>
<text x="1193.43" y="2338.1" font-size="47.5" textLength="48.35" lengthAdjust="spacingAndGlyphs" stroke="#fff" stroke-width="0.8">Q.</text>
<text x="1272.1" y="2338.1" font-size="48" textLength="99.7" lengthAdjust="spacingAndGlyphs" stroke="#fff" stroke-width="0.8">TNFa</text>
<path d="M1225.54 2600.4V2596.73H1249.66V2600.4Z" fill="#9a9a9a"/>
<path d="M1225.54 2600.4V2596.73H1249.66V2600.4" fill="none" stroke="#050505" stroke-width="3.45"/>
<path d="M1237.6 2593V2598M1230.65 2593h13.89M1230.65 2598h13.89" stroke="#050505" stroke-width="1.9" fill="none"/>
<path d="M1267.54 2600.4V2590.63H1291.66V2600.4Z" fill="#8cb0cc"/>
<path d="M1267.54 2600.4V2590.63H1291.66V2600.4" fill="none" stroke="#0b3650" stroke-width="3.45"/>
<path d="M1279.6 2582.3V2595M1272.65 2582.3h13.89M1272.65 2595h13.89" stroke="#0b3650" stroke-width="1.9" fill="none"/>
<path d="M1309.74 2600.4V2535.03H1333.86V2600.4Z" fill="#fde6a2"/>
<path d="M1309.74 2600.4V2535.03H1333.86V2600.4" fill="none" stroke="#7a5b22" stroke-width="3.45"/>
<path d="M1321.8 2507.7V2560M1314.85 2507.7h13.89M1314.85 2560h13.89" stroke="#7a5b22" stroke-width="1.9" fill="none"/>
<path d="M1351.74 2600.4V2589.93H1375.86V2600.4Z" fill="#dcefe3"/>
<path d="M1351.74 2600.4V2589.93H1375.86V2600.4" fill="none" stroke="#3f7469" stroke-width="3.45"/>
<path d="M1363.8 2577.9V2595M1356.85 2577.9h13.89M1356.85 2595h13.89" stroke="#3f7469" stroke-width="1.9" fill="none"/>
<path d="M1393.94 2600.4V2590.63H1418.06V2600.4Z" fill="#fbf4dd"/>
<path d="M1393.94 2600.4V2590.63H1418.06V2600.4" fill="none" stroke="#9c9a4b" stroke-width="3.45"/>
<path d="M1406 2584V2595M1399.05 2584h13.89M1399.05 2595h13.89" stroke="#9c9a4b" stroke-width="1.9" fill="none"/>
<path d="M1210.8 2374.9V2600.4H1435.2" stroke="#000" stroke-width="2.1" fill="none"/>
<path d="M1202.8 2375.9H1210.8M1202.8 2450.73H1210.8M1202.8 2525.57H1210.8M1202.8 2600.4H1210.8M1237.6 2600.4V2608.9M1279.6 2600.4V2608.9M1321.8 2600.4V2608.9M1363.8 2600.4V2608.9M1406 2600.4V2608.9" stroke="#000" stroke-width="2" fill="none"/>
<circle cx="1229" cy="2589" r="4.65" fill="#333333"/>
<circle cx="1236.4" cy="2591.5" r="4.65" fill="#333333"/>
<circle cx="1229" cy="2600" r="4.65" fill="#333333"/>
<circle cx="1239" cy="2597.6" r="4.65" fill="#333333"/>
<circle cx="1247.4" cy="2600" r="4.65" fill="#333333"/>
<circle cx="1275.4" cy="2570.6" r="4.65" fill="#1f6197"/>
<circle cx="1285.2" cy="2570.6" r="4.65" fill="#1f6197"/>
<circle cx="1279.6" cy="2588.2" r="4.65" fill="#1f6197"/>
<circle cx="1270.5" cy="2600.4" r="4.65" fill="#1f6197"/>
<circle cx="1279.6" cy="2600.4" r="4.65" fill="#1f6197"/>
<circle cx="1288.8" cy="2600.4" r="4.65" fill="#1f6197"/>
<circle cx="1321.8" cy="2414" r="4.65" fill="#f8cd48"/>
<circle cx="1321.8" cy="2530.3" r="4.65" fill="#f8cd48"/>
<circle cx="1312.8" cy="2555.5" r="4.65" fill="#f8cd48"/>
<circle cx="1331.5" cy="2556" r="4.65" fill="#f8cd48"/>
<circle cx="1321.8" cy="2560.9" r="4.65" fill="#f8cd48"/>
<circle cx="1321.8" cy="2579.2" r="4.65" fill="#f8cd48"/>
<circle cx="1363.8" cy="2558.4" r="4.65" fill="#c4e2ce"/>
<circle cx="1363.8" cy="2574.3" r="4.65" fill="#c4e2ce"/>
<circle cx="1354.7" cy="2600.4" r="4.65" fill="#c4e2ce"/>
<circle cx="1363.8" cy="2599" r="4.65" fill="#c4e2ce"/>
<circle cx="1373" cy="2600.4" r="4.65" fill="#c4e2ce"/>
<circle cx="1406" cy="2569.4" r="4.65" fill="#f5e9bb"/>
<circle cx="1401.6" cy="2581.6" r="4.65" fill="#f5e9bb"/>
<circle cx="1410.4" cy="2582.8" r="4.65" fill="#f5e9bb"/>
<circle cx="1396.2" cy="2599" r="4.65" fill="#f5e9bb"/>
<circle cx="1406" cy="2596.6" r="4.65" fill="#f5e9bb"/>
<circle cx="1415.2" cy="2596.6" r="4.65" fill="#f5e9bb"/>
<text x="1201" y="2382.4" font-size="17.2" text-anchor="end">150</text>
<text x="1201" y="2457.23" font-size="17.2" text-anchor="end">100</text>
<text x="1201" y="2532.07" font-size="17.2" text-anchor="end">50</text>
<text x="1201" y="2606.9" font-size="17.2" text-anchor="end">0</text>
<path d="M1237.6 2576.7L1237.6 2387.1L1322.5 2387.1L1322.5 2400.3" stroke="#000" stroke-width="1.8" fill="none"/>
<path d="M1280.65 2369.6L1280.65 2378.8M1276.67 2371.9L1284.63 2376.5M1276.67 2376.5L1284.63 2371.9" stroke="#000" stroke-width="2.2" fill="none"/>
<text transform="translate(73.3,485) rotate(-90)" x="-3.92" y="0" font-size="48" textLength="122.11" lengthAdjust="spacingAndGlyphs" stroke="#fff" stroke-width="0.8">Pg/ml</text>
<text transform="translate(73.3,777.3) rotate(-90)" x="-3.93" y="0" font-size="48" textLength="122.43" lengthAdjust="spacingAndGlyphs" stroke="#fff" stroke-width="0.8">Pg/ml</text>
<text transform="translate(73.3,1041) rotate(-90)" x="-3.93" y="0" font-size="48" textLength="122.33" lengthAdjust="spacingAndGlyphs" stroke="#fff" stroke-width="0.8">Pg/ml</text>
<text transform="translate(72,1367.4) rotate(-90)" x="-3.92" y="0" font-size="48" textLength="122.22" lengthAdjust="spacingAndGlyphs" stroke="#fff" stroke-width="0.8">Pg/ml</text>
<text transform="translate(73.3,1672.4) rotate(-90)" x="-3.93" y="0" font-size="48" textLength="122.54" lengthAdjust="spacingAndGlyphs" stroke="#fff" stroke-width="0.8">Pg/ml</text>
<text transform="translate(73.3,1965.3) rotate(-90)" x="-3.88" y="0" font-size="48" textLength="120.95" lengthAdjust="spacingAndGlyphs" stroke="#fff" stroke-width="0.8">Pg/ml</text>
<text transform="translate(73.3,2231.7) rotate(-90)" x="-3.98" y="0" font-size="48" textLength="123.92" lengthAdjust="spacingAndGlyphs" stroke="#fff" stroke-width="0.8">Pg/ml</text>
<text transform="translate(72,2556.2) rotate(-90)" x="-3.93" y="0" font-size="48" textLength="122.33" lengthAdjust="spacingAndGlyphs" stroke="#fff" stroke-width="0.8">Pg/ml</text>
<circle cx="59" cy="2676.4" r="23.8" fill="#2d2d2d"/>
<text x="86.1" y="2693.6" font-size="47.4" textLength="124.38" lengthAdjust="spacingAndGlyphs" stroke="#fff" stroke-width="0.8">Water</text>
<circle cx="366.5" cy="2676.4" r="23.8" fill="#1f6197"/>
<text x="390.1" y="2693.6" font-size="47.4" textLength="205.03" lengthAdjust="spacingAndGlyphs" stroke="#fff" stroke-width="0.8">LPS-water</text>
<circle cx="672.2" cy="2676.4" r="23.8" fill="#f8cd48"/>
<text x="699.6" y="2693.6" font-size="47.4" textLength="147.7" lengthAdjust="spacingAndGlyphs" stroke="#fff" stroke-width="0.8">Vehicle</text>
<circle cx="980.5" cy="2676.4" r="23.8" fill="#c4e2ce"/>
<text x="1004.43" y="2693.6" font-size="47.4" textLength="158.84" lengthAdjust="spacingAndGlyphs" stroke="#fff" stroke-width="0.8">LPS-LPS</text>
<circle cx="1287" cy="2676.4" r="23.8" fill="#f5e9bb"/>
<text x="1312.48" y="2693.6" font-size="47.4" textLength="68.36" lengthAdjust="spacingAndGlyphs" stroke="#fff" stroke-width="0.8">CIR</text>
</svg></body></html>
